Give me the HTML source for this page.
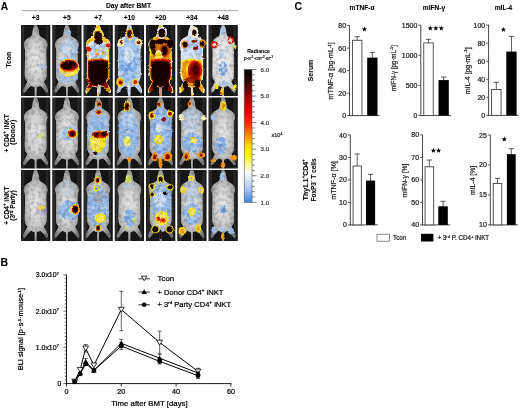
<!DOCTYPE html>
<html><head><meta charset="utf-8"><style>
html,body{margin:0;padding:0;background:#fff;}
svg{display:block;font-family:"Liberation Sans", sans-serif;will-change:transform;}
</style></head><body>
<svg width="520" height="408" viewBox="0 0 520 408">
<defs>
<path id="mouse" d="M14.65,0.30 C14.17,0.30 13.61,0.67 13.20,1.20 C12.79,1.73 12.47,2.62 12.20,3.50 C11.93,4.38 11.77,5.50 11.60,6.50 C11.43,7.50 11.47,8.65 11.20,9.50 C10.93,10.35 10.67,10.98 10.00,11.60 C9.33,12.22 8.07,12.63 7.20,13.20 C6.33,13.77 5.45,14.27 4.80,15.00 C4.15,15.73 3.62,16.70 3.30,17.60 C2.98,18.50 2.85,19.57 2.90,20.40 C2.95,21.23 3.40,21.67 3.60,22.60 C3.80,23.53 4.03,24.27 4.10,26.00 C4.17,27.73 4.03,30.33 4.00,33.00 C3.97,35.67 3.93,39.33 3.90,42.00 C3.87,44.67 3.72,47.08 3.80,49.00 C3.88,50.92 3.98,52.23 4.40,53.50 C4.82,54.77 6.20,55.58 6.30,56.60 C6.40,57.62 5.55,58.43 5.00,59.60 C4.45,60.77 3.43,62.43 3.00,63.60 C2.57,64.77 2.25,65.97 2.40,66.60 C2.55,67.23 3.22,67.83 3.90,67.40 C4.58,66.97 5.58,65.03 6.50,64.00 C7.42,62.97 8.42,61.57 9.40,61.20 C10.38,60.83 11.68,61.53 12.40,61.80 C13.12,62.07 13.45,61.27 13.70,62.80 C13.95,64.33 13.62,69.63 13.90,71.00 C14.18,72.37 15.12,72.37 15.40,71.00 C15.68,69.63 15.35,64.33 15.60,62.80 C15.85,61.27 16.18,62.07 16.90,61.80 C17.62,61.53 18.92,60.83 19.90,61.20 C20.88,61.57 21.88,62.97 22.80,64.00 C23.72,65.03 24.72,66.97 25.40,67.40 C26.08,67.83 26.75,67.23 26.90,66.60 C27.05,65.97 26.73,64.77 26.30,63.60 C25.87,62.43 24.85,60.77 24.30,59.60 C23.75,58.43 22.90,57.62 23.00,56.60 C23.10,55.58 24.48,54.77 24.90,53.50 C25.32,52.23 25.42,50.92 25.50,49.00 C25.58,47.08 25.43,44.67 25.40,42.00 C25.37,39.33 25.33,35.67 25.30,33.00 C25.27,30.33 25.13,27.73 25.20,26.00 C25.27,24.27 25.50,23.53 25.70,22.60 C25.90,21.67 26.35,21.23 26.40,20.40 C26.45,19.57 26.32,18.50 26.00,17.60 C25.68,16.70 25.15,15.73 24.50,15.00 C23.85,14.27 22.97,13.77 22.10,13.20 C21.23,12.63 19.97,12.22 19.30,11.60 C18.63,10.98 18.37,10.35 18.10,9.50 C17.83,8.65 17.87,7.50 17.70,6.50 C17.53,5.50 17.37,4.38 17.10,3.50 C16.83,2.62 16.51,1.73 16.10,1.20 C15.69,0.67 15.13,0.30 14.65,0.30 Z"/>
<filter id="heat0" x="-15%" y="-15%" width="130%" height="130%"><feTurbulence type="fractalNoise" baseFrequency="0.45" numOctaves="2" seed="1" result="n"/><feDisplacementMap in="SourceGraphic" in2="n" scale="2.6" xChannelSelector="R" yChannelSelector="G" result="d"/><feGaussianBlur in="d" stdDeviation="0.35"/></filter>
<filter id="patch0" x="-15%" y="-15%" width="130%" height="130%"><feTurbulence type="fractalNoise" baseFrequency="0.3" numOctaves="2" seed="5" result="n"/><feDisplacementMap in="SourceGraphic" in2="n" scale="3" xChannelSelector="R" yChannelSelector="G" result="d"/><feColorMatrix in="n" type="matrix" values="0 0 0 0 0  0 0 0 0 0  0 0 0 0 0  0 0 4 0 -1.35" result="m"/><feComposite in="d" in2="m" operator="in" result="c"/><feGaussianBlur in="c" stdDeviation="0.5"/></filter>
<filter id="tex0" x="0" y="0" width="100%" height="100%"><feTurbulence type="fractalNoise" baseFrequency="0.28" numOctaves="3" seed="2" result="n"/><feColorMatrix in="n" type="matrix" values="0 0 0 0 0  0 0 0 0 0  0 0 0 0 0  2.6 0 0 0 -1.1" result="a0"/><feGaussianBlur in="a0" stdDeviation="0.35" result="a"/><feComposite in="a" in2="SourceGraphic" operator="in"/></filter>
<filter id="heat1" x="-15%" y="-15%" width="130%" height="130%"><feTurbulence type="fractalNoise" baseFrequency="0.45" numOctaves="2" seed="8" result="n"/><feDisplacementMap in="SourceGraphic" in2="n" scale="2.6" xChannelSelector="R" yChannelSelector="G" result="d"/><feGaussianBlur in="d" stdDeviation="0.35"/></filter>
<filter id="patch1" x="-15%" y="-15%" width="130%" height="130%"><feTurbulence type="fractalNoise" baseFrequency="0.3" numOctaves="2" seed="8" result="n"/><feDisplacementMap in="SourceGraphic" in2="n" scale="3" xChannelSelector="R" yChannelSelector="G" result="d"/><feColorMatrix in="n" type="matrix" values="0 0 0 0 0  0 0 0 0 0  0 0 0 0 0  0 0 4 0 -1.35" result="m"/><feComposite in="d" in2="m" operator="in" result="c"/><feGaussianBlur in="c" stdDeviation="0.5"/></filter>
<filter id="tex1" x="0" y="0" width="100%" height="100%"><feTurbulence type="fractalNoise" baseFrequency="0.28" numOctaves="3" seed="7" result="n"/><feColorMatrix in="n" type="matrix" values="0 0 0 0 0  0 0 0 0 0  0 0 0 0 0  2.6 0 0 0 -1.1" result="a0"/><feGaussianBlur in="a0" stdDeviation="0.35" result="a"/><feComposite in="a" in2="SourceGraphic" operator="in"/></filter>
<filter id="heat2" x="-15%" y="-15%" width="130%" height="130%"><feTurbulence type="fractalNoise" baseFrequency="0.45" numOctaves="2" seed="15" result="n"/><feDisplacementMap in="SourceGraphic" in2="n" scale="2.6" xChannelSelector="R" yChannelSelector="G" result="d"/><feGaussianBlur in="d" stdDeviation="0.35"/></filter>
<filter id="patch2" x="-15%" y="-15%" width="130%" height="130%"><feTurbulence type="fractalNoise" baseFrequency="0.3" numOctaves="2" seed="11" result="n"/><feDisplacementMap in="SourceGraphic" in2="n" scale="3" xChannelSelector="R" yChannelSelector="G" result="d"/><feColorMatrix in="n" type="matrix" values="0 0 0 0 0  0 0 0 0 0  0 0 0 0 0  0 0 4 0 -1.35" result="m"/><feComposite in="d" in2="m" operator="in" result="c"/><feGaussianBlur in="c" stdDeviation="0.5"/></filter>
<filter id="tex2" x="0" y="0" width="100%" height="100%"><feTurbulence type="fractalNoise" baseFrequency="0.28" numOctaves="3" seed="12" result="n"/><feColorMatrix in="n" type="matrix" values="0 0 0 0 0  0 0 0 0 0  0 0 0 0 0  2.6 0 0 0 -1.1" result="a0"/><feGaussianBlur in="a0" stdDeviation="0.35" result="a"/><feComposite in="a" in2="SourceGraphic" operator="in"/></filter>
<filter id="heat3" x="-15%" y="-15%" width="130%" height="130%"><feTurbulence type="fractalNoise" baseFrequency="0.45" numOctaves="2" seed="22" result="n"/><feDisplacementMap in="SourceGraphic" in2="n" scale="2.6" xChannelSelector="R" yChannelSelector="G" result="d"/><feGaussianBlur in="d" stdDeviation="0.35"/></filter>
<filter id="patch3" x="-15%" y="-15%" width="130%" height="130%"><feTurbulence type="fractalNoise" baseFrequency="0.3" numOctaves="2" seed="14" result="n"/><feDisplacementMap in="SourceGraphic" in2="n" scale="3" xChannelSelector="R" yChannelSelector="G" result="d"/><feColorMatrix in="n" type="matrix" values="0 0 0 0 0  0 0 0 0 0  0 0 0 0 0  0 0 4 0 -1.35" result="m"/><feComposite in="d" in2="m" operator="in" result="c"/><feGaussianBlur in="c" stdDeviation="0.5"/></filter>
<filter id="tex3" x="0" y="0" width="100%" height="100%"><feTurbulence type="fractalNoise" baseFrequency="0.28" numOctaves="3" seed="17" result="n"/><feColorMatrix in="n" type="matrix" values="0 0 0 0 0  0 0 0 0 0  0 0 0 0 0  2.6 0 0 0 -1.1" result="a0"/><feGaussianBlur in="a0" stdDeviation="0.35" result="a"/><feComposite in="a" in2="SourceGraphic" operator="in"/></filter>

<filter id="pblur" x="-5%" y="-5%" width="110%" height="110%"><feGaussianBlur stdDeviation="0.3"/></filter>
<filter id="soft" x="-10%" y="-10%" width="120%" height="120%"><feGaussianBlur stdDeviation="0.45"/></filter>
<radialGradient id="mg" cx="50%" cy="50%" r="55%" gradientTransform="translate(0.5 0.5) scale(1.1 1) translate(-0.5 -0.5)"><stop offset="0" stop-color="#f2f2f2"/><stop offset="0.45" stop-color="#dadada"/><stop offset="0.8" stop-color="#a8a8a8"/><stop offset="1" stop-color="#707070"/></radialGradient>
<linearGradient id="cbar" x1="0" y1="0" x2="0" y2="1">
<stop offset="0" stop-color="#000"/>
<stop offset="0.1" stop-color="#3a0000"/>
<stop offset="0.2" stop-color="#990000"/>
<stop offset="0.3" stop-color="#e00000"/>
<stop offset="0.4" stop-color="#ff2a00"/>
<stop offset="0.5" stop-color="#ff8c00"/>
<stop offset="0.58" stop-color="#ffe000"/>
<stop offset="0.64" stop-color="#fff200"/>
<stop offset="0.72" stop-color="#fffaa0"/>
<stop offset="0.78" stop-color="#f8fbff"/>
<stop offset="0.9" stop-color="#a6c6f4"/>
<stop offset="1" stop-color="#3d82e8"/>
</linearGradient>
</defs>
<rect width="520" height="408" fill="#fff"/>
<text x="0.8" y="10.3" font-size="10.2" font-weight="bold" text-anchor="start" fill="#000" stroke="#000" stroke-width="0.08">A</text>
<text x="128.5" y="8" font-size="6.7" font-weight="bold" text-anchor="middle" fill="#000" stroke="#000" stroke-width="0.08">Day after BMT</text>
<line x1="22" y1="10.7" x2="238" y2="10.7" stroke="#999" stroke-width="0.9"/>
<text x="35.65" y="20.1" font-size="6.7" font-weight="bold" text-anchor="middle" fill="#000" stroke="#000" stroke-width="0.08">+3</text>
<text x="66.9" y="20.1" font-size="6.7" font-weight="bold" text-anchor="middle" fill="#000" stroke="#000" stroke-width="0.08">+5</text>
<text x="98.15" y="20.1" font-size="6.7" font-weight="bold" text-anchor="middle" fill="#000" stroke="#000" stroke-width="0.08">+7</text>
<text x="129.4" y="20.1" font-size="6.7" font-weight="bold" text-anchor="middle" fill="#000" stroke="#000" stroke-width="0.08">+10</text>
<text x="160.65" y="20.1" font-size="6.7" font-weight="bold" text-anchor="middle" fill="#000" stroke="#000" stroke-width="0.08">+20</text>
<text x="191.9" y="20.1" font-size="6.7" font-weight="bold" text-anchor="middle" fill="#000" stroke="#000" stroke-width="0.08">+34</text>
<text x="223.15" y="20.1" font-size="6.7" font-weight="bold" text-anchor="middle" fill="#000" stroke="#000" stroke-width="0.08">+48</text>
<g transform="translate(21.00,25)">
<clipPath id="pc00"><rect x="0" y="0" width="29.3" height="71"/></clipPath>
<g clip-path="url(#pc00)"><g filter="url(#pblur)">
<rect x="-1" y="-1" width="31.3" height="73" fill="#181818"/>
<rect x="0.6" y="0" width="2.6" height="71" fill="#2c2c2c"/>
<rect x="25" y="0" width="2.5" height="71" fill="#262626"/>
<rect x="12.8" y="0" width="3.2" height="5" fill="#7a7a7a" opacity="0.7"/>
<use href="#mouse" fill="#b4b4b4" filter="url(#soft)"/>
<use href="#mouse" fill="url(#mg)" opacity="0.85" filter="url(#soft)"/>
<g filter="url(#heat0)">
<ellipse cx="22.25" cy="41.00" rx="3.75" ry="2.50" fill="#a2c6f3" opacity="0.85"/>
<ellipse cx="22.30" cy="41.00" rx="2.00" ry="1.20" fill="#c8c8c8"/>
</g>
<use href="#mouse" fill="#000" filter="url(#tex0)" opacity="0.2"/>
</g></g>
</g>
<g transform="translate(52.25,25)">
<clipPath id="pc01"><rect x="0" y="0" width="29.3" height="71"/></clipPath>
<g clip-path="url(#pc01)"><g filter="url(#pblur)">
<rect x="-1" y="-1" width="31.3" height="73" fill="#181818"/>
<rect x="0.6" y="0" width="2.6" height="71" fill="#2c2c2c"/>
<rect x="25" y="0" width="2.5" height="71" fill="#262626"/>
<rect x="12.8" y="0" width="3.2" height="5" fill="#7a7a7a" opacity="0.7"/>
<use href="#mouse" fill="#b4b4b4" filter="url(#soft)"/>
<use href="#mouse" fill="url(#mg)" opacity="0.85" filter="url(#soft)"/>
<g filter="url(#heat1)">
<ellipse cx="17.25" cy="23.50" rx="8.75" ry="11.50" fill="#a2c6f3" opacity="0.95" filter="url(#patch1)"/>
<ellipse cx="16.00" cy="23.00" rx="6.00" ry="7.00" fill="#e9f1fb" opacity="0.35"/>
<ellipse cx="16.00" cy="53.00" rx="10.00" ry="5.00" fill="#a2c6f3" opacity="0.9" filter="url(#patch1)"/>
<ellipse cx="16.15" cy="7.90" rx="2.65" ry="3.10" fill="#a2c6f3" opacity="0.9"/>
<ellipse cx="16.40" cy="43.25" rx="10.80" ry="10.75" fill="#a2c6f3" opacity="0.9"/>
<ellipse cx="16.60" cy="42.80" rx="10.20" ry="9.20" fill="#ffe81a"/>
<ellipse cx="15.00" cy="47.75" rx="6.00" ry="3.75" fill="#fff27a"/>
<ellipse cx="16.70" cy="40.85" rx="9.50" ry="6.65" fill="#ff9a10"/>
<ellipse cx="16.70" cy="40.40" rx="8.90" ry="5.60" fill="#e01a00"/>
<ellipse cx="16.70" cy="40.20" rx="8.30" ry="4.60" fill="#8a0a00"/>
<ellipse cx="14.30" cy="40.80" rx="5.50" ry="3.80" fill="#1a0400"/>
<ellipse cx="19.75" cy="39.00" rx="3.75" ry="3.00" fill="#1a0400"/>
</g>
<use href="#mouse" fill="#000" filter="url(#tex1)" opacity="0.2"/>
</g></g>
</g>
<g transform="translate(83.50,25)">
<clipPath id="pc02"><rect x="0" y="0" width="29.3" height="71"/></clipPath>
<g clip-path="url(#pc02)"><g filter="url(#pblur)">
<rect x="-1" y="-1" width="31.3" height="73" fill="#181818"/>
<rect x="0.6" y="0" width="2.6" height="71" fill="#2c2c2c"/>
<rect x="25" y="0" width="2.5" height="71" fill="#262626"/>
<rect x="12.8" y="0" width="3.2" height="5" fill="#7a7a7a" opacity="0.7"/>
<use href="#mouse" fill="#b4b4b4" filter="url(#soft)"/>
<use href="#mouse" fill="url(#mg)" opacity="0.85" filter="url(#soft)"/>
<g filter="url(#heat2)">
<clipPath id="cp02_0"><rect x="-2" y="-2" width="34" height="76"/></clipPath>
<g clip-path="url(#cp02_0)"><use href="#mouse" fill="#fff6c8" transform="translate(14.65 36) scale(1.04 1.012) translate(-14.65 -36)"/></g>
<clipPath id="cp02_1"><rect x="-2" y="-2" width="34" height="76"/></clipPath>
<g clip-path="url(#cp02_1)"><use href="#mouse" fill="#ffe81a" transform="translate(14.65 36) scale(1.0 1.0) translate(-14.65 -36)"/></g>
<clipPath id="cp02_2"><rect x="-2" y="-2" width="34" height="76"/></clipPath>
<g clip-path="url(#cp02_2)" opacity="0.5"><use href="#mouse" fill="#ff9a10" transform="translate(14.65 36) scale(0.97 0.99) translate(-14.65 -36)"/></g>
<clipPath id="cp02_3"><ellipse cx="15.00" cy="28.00" rx="21.00" ry="12.00"/></clipPath>
<g clip-path="url(#cp02_3)"><use href="#mouse" fill="#e4eefc" transform="translate(14.65 36) scale(0.9 0.975) translate(-14.65 -36)"/></g>
<ellipse cx="15.25" cy="26.75" rx="8.75" ry="9.25" fill="#a2c6f3" filter="url(#patch2)"/>
<ellipse cx="12.75" cy="25.50" rx="1.25" ry="1.50" fill="#ffe81a" opacity="0.9"/>
<ellipse cx="13.85" cy="29.20" rx="1.35" ry="1.40" fill="#ff9a10"/>
<ellipse cx="19.70" cy="28.10" rx="1.30" ry="1.30" fill="#ff9a10"/>
<ellipse cx="14.60" cy="10.80" rx="5.80" ry="7.20" fill="#fff0a0"/>
<ellipse cx="14.60" cy="11.00" rx="5.00" ry="6.40" fill="#ffe81a"/>
<ellipse cx="14.70" cy="11.00" rx="4.10" ry="5.00" fill="#8a0a00"/>
<ellipse cx="14.70" cy="10.80" rx="3.30" ry="3.80" fill="#1a0400"/>
<ellipse cx="15.00" cy="16.60" rx="4.40" ry="2.60" fill="#1a0400"/>
<ellipse cx="5.20" cy="24.00" rx="2.80" ry="2.60" fill="#e01a00"/>
<ellipse cx="24.40" cy="20.50" rx="2.60" ry="2.10" fill="#e01a00"/>
<clipPath id="cp02_15"><ellipse cx="14.50" cy="50.70" rx="26.50" ry="17.30"/></clipPath>
<g clip-path="url(#cp02_15)"><use href="#mouse" fill="#ff9a10" transform="translate(14.65 36) scale(0.97 0.995) translate(-14.65 -36)"/></g>
<clipPath id="cp02_16"><ellipse cx="14.50" cy="49.30" rx="24.50" ry="14.70"/></clipPath>
<g clip-path="url(#cp02_16)"><use href="#mouse" fill="#8a0a00" transform="translate(14.65 36) scale(0.93 0.985) translate(-14.65 -36)"/></g>
<clipPath id="cp02_17"><ellipse cx="14.50" cy="47.90" rx="22.50" ry="12.10"/></clipPath>
<g clip-path="url(#cp02_17)"><use href="#mouse" fill="#1a0400" transform="translate(14.65 36) scale(0.88 0.975) translate(-14.65 -36)"/></g>
<ellipse cx="4.80" cy="56.30" rx="2.20" ry="1.70" fill="#8a0a00"/>
<ellipse cx="22.20" cy="59.30" rx="2.00" ry="2.10" fill="#8a0a00"/>
<ellipse cx="15.45" cy="64.75" rx="1.95" ry="5.75" fill="#e9f1fb" opacity="0.8"/>
</g>
<use href="#mouse" fill="#000" filter="url(#tex2)" opacity="0.2"/>
</g></g>
</g>
<g transform="translate(114.75,25)">
<clipPath id="pc03"><rect x="0" y="0" width="29.3" height="71"/></clipPath>
<g clip-path="url(#pc03)"><g filter="url(#pblur)">
<rect x="-1" y="-1" width="31.3" height="73" fill="#181818"/>
<rect x="0.6" y="0" width="2.6" height="71" fill="#2c2c2c"/>
<rect x="25" y="0" width="2.5" height="71" fill="#262626"/>
<rect x="12.8" y="0" width="3.2" height="5" fill="#7a7a7a" opacity="0.7"/>
<use href="#mouse" fill="#b4b4b4" filter="url(#soft)"/>
<use href="#mouse" fill="url(#mg)" opacity="0.85" filter="url(#soft)"/>
<g filter="url(#heat3)">
<clipPath id="cp03_0"><rect x="-2" y="-2" width="34" height="76"/></clipPath>
<g clip-path="url(#cp03_0)"><use href="#mouse" fill="#f2f6ff" transform="translate(14.65 36) scale(1.04 1.01) translate(-14.65 -36)"/></g>
<clipPath id="cp03_1"><rect x="-2" y="-2" width="34" height="76"/></clipPath>
<g clip-path="url(#cp03_1)"><use href="#mouse" fill="#b8d2f5" transform="translate(14.65 36) scale(0.97 0.99) translate(-14.65 -36)"/></g>
<ellipse cx="14.80" cy="33.50" rx="10.60" ry="20.50" fill="#a2c6f3" filter="url(#patch3)"/>
<ellipse cx="14.00" cy="41.00" rx="8.00" ry="11.00" fill="#6a9fea" opacity="0.7" filter="url(#patch3)"/>
<ellipse cx="13.50" cy="30.00" rx="5.50" ry="8.00" fill="#e9f1fb" opacity="0.7"/>
<ellipse cx="14.85" cy="8.90" rx="3.55" ry="5.70" fill="#ffe81a"/>
<ellipse cx="14.85" cy="8.95" rx="2.95" ry="4.85" fill="#ff9a10"/>
<ellipse cx="14.85" cy="8.90" rx="2.45" ry="3.90" fill="#8a0a00"/>
<ellipse cx="14.80" cy="8.80" rx="1.80" ry="2.80" fill="#1a0400"/>
<ellipse cx="6.40" cy="17.70" rx="3.00" ry="3.90" fill="#fff6a0"/>
<ellipse cx="6.50" cy="17.60" rx="1.50" ry="2.00" fill="#8a0a00"/>
<ellipse cx="23.75" cy="17.35" rx="3.45" ry="3.55" fill="#fff6a0"/>
<ellipse cx="23.80" cy="17.30" rx="1.80" ry="1.90" fill="#8a0a00"/>
<ellipse cx="14.00" cy="55.00" rx="11.00" ry="5.00" fill="#a2c6f3" filter="url(#patch3)"/>
<ellipse cx="5.40" cy="57.15" rx="3.80" ry="4.65" fill="#ffe81a"/>
<ellipse cx="5.50" cy="57.20" rx="2.90" ry="3.60" fill="#ff9a10"/>
<ellipse cx="5.60" cy="57.50" rx="1.60" ry="2.10" fill="#8a0a00"/>
<ellipse cx="20.60" cy="57.10" rx="3.00" ry="3.10" fill="#ffe81a"/>
<ellipse cx="20.60" cy="57.10" rx="2.00" ry="2.10" fill="#e01a00"/>
<ellipse cx="14.00" cy="64.00" rx="1.50" ry="6.00" fill="#e9f1fb" opacity="0.7"/>
</g>
<use href="#mouse" fill="#000" filter="url(#tex3)" opacity="0.2"/>
</g></g>
</g>
<g transform="translate(146.00,25)">
<clipPath id="pc04"><rect x="0" y="0" width="29.3" height="71"/></clipPath>
<g clip-path="url(#pc04)"><g filter="url(#pblur)">
<rect x="-1" y="-1" width="31.3" height="73" fill="#181818"/>
<rect x="0.6" y="0" width="2.6" height="71" fill="#2c2c2c"/>
<rect x="25" y="0" width="2.5" height="71" fill="#262626"/>
<rect x="12.8" y="0" width="3.2" height="5" fill="#7a7a7a" opacity="0.7"/>
<use href="#mouse" fill="#b4b4b4" filter="url(#soft)"/>
<use href="#mouse" fill="url(#mg)" opacity="0.85" filter="url(#soft)"/>
<g filter="url(#heat0)">
<clipPath id="cp04_0"><rect x="-2" y="-2" width="34" height="76"/></clipPath>
<g clip-path="url(#cp04_0)"><use href="#mouse" fill="#fff8e0" transform="translate(14.65 36) scale(1.04 1.012) translate(-14.65 -36)"/></g>
<clipPath id="cp04_1"><rect x="-2" y="-2" width="34" height="76"/></clipPath>
<g clip-path="url(#cp04_1)"><use href="#mouse" fill="#ffe81a" transform="translate(14.65 36) scale(1.0 1.0) translate(-14.65 -36)"/></g>
<clipPath id="cp04_2"><rect x="-2" y="-2" width="34" height="76"/></clipPath>
<g clip-path="url(#cp04_2)" opacity="0.85"><use href="#mouse" fill="#ff9a10" transform="translate(14.65 36) scale(0.93 0.985) translate(-14.65 -36)"/></g>
<ellipse cx="15.00" cy="25.00" rx="10.00" ry="9.00" fill="#8a0a00" opacity="0.35"/>
<ellipse cx="16.00" cy="7.75" rx="5.00" ry="6.25" fill="#ffffff"/>
<ellipse cx="15.90" cy="7.90" rx="3.60" ry="4.50" fill="#1a0400"/>
<ellipse cx="15.45" cy="16.60" rx="6.85" ry="2.60" fill="#1a0400"/>
<ellipse cx="6.70" cy="19.60" rx="3.30" ry="5.40" fill="#1a0400"/>
<ellipse cx="24.25" cy="18.60" rx="3.25" ry="4.40" fill="#1a0400"/>
<ellipse cx="18.50" cy="25.75" rx="4.00" ry="5.75" fill="#8a0a00" opacity="0.8"/>
<ellipse cx="18.60" cy="25.85" rx="2.70" ry="4.45" fill="#1a0400"/>
<ellipse cx="8.00" cy="27.00" rx="2.00" ry="3.00" fill="#1a0400" opacity="0.8"/>
<ellipse cx="12.50" cy="30.10" rx="3.50" ry="4.90" fill="#fff6c0"/>
<ellipse cx="12.50" cy="30.50" rx="2.50" ry="3.50" fill="#ffe81a"/>
<clipPath id="cp04_14"><ellipse cx="14.50" cy="54.75" rx="24.50" ry="21.25"/></clipPath>
<g clip-path="url(#cp04_14)"><use href="#mouse" fill="#e01a00" transform="translate(14.65 36) scale(0.95 0.99) translate(-14.65 -36)"/></g>
<clipPath id="cp04_15"><ellipse cx="14.50" cy="53.50" rx="22.50" ry="18.50"/></clipPath>
<g clip-path="url(#cp04_15)"><use href="#mouse" fill="#8a0a00" transform="translate(14.65 36) scale(0.9 0.98) translate(-14.65 -36)"/></g>
<clipPath id="cp04_16"><ellipse cx="14.50" cy="49.20" rx="20.50" ry="12.80"/></clipPath>
<g clip-path="url(#cp04_16)"><use href="#mouse" fill="#1a0400" transform="translate(14.65 36) scale(0.84 0.97) translate(-14.65 -36)"/></g>
<ellipse cx="8.75" cy="61.50" rx="2.25" ry="4.50" fill="#1a0400"/>
<ellipse cx="20.00" cy="60.50" rx="2.50" ry="4.50" fill="#1a0400"/>
<ellipse cx="14.70" cy="66.50" rx="1.30" ry="4.50" fill="#e9f1fb" opacity="0.6"/>
</g>
<use href="#mouse" fill="#000" filter="url(#tex0)" opacity="0.2"/>
</g></g>
</g>
<g transform="translate(177.25,25)">
<clipPath id="pc05"><rect x="0" y="0" width="29.3" height="71"/></clipPath>
<g clip-path="url(#pc05)"><g filter="url(#pblur)">
<rect x="-1" y="-1" width="31.3" height="73" fill="#181818"/>
<rect x="0.6" y="0" width="2.6" height="71" fill="#2c2c2c"/>
<rect x="25" y="0" width="2.5" height="71" fill="#262626"/>
<rect x="12.8" y="0" width="3.2" height="5" fill="#7a7a7a" opacity="0.7"/>
<use href="#mouse" fill="#b4b4b4" filter="url(#soft)"/>
<use href="#mouse" fill="url(#mg)" opacity="0.85" filter="url(#soft)"/>
<g filter="url(#heat1)">
<clipPath id="cp05_0"><rect x="-2" y="-2" width="34" height="76"/></clipPath>
<g clip-path="url(#cp05_0)"><use href="#mouse" fill="#fff8e0" transform="translate(14.65 36) scale(1.05 1.015) translate(-14.65 -36)"/></g>
<clipPath id="cp05_1"><rect x="-2" y="-2" width="34" height="76"/></clipPath>
<g clip-path="url(#cp05_1)"><use href="#mouse" fill="#dce8fb" transform="translate(14.65 36) scale(0.98 0.995) translate(-14.65 -36)"/></g>
<ellipse cx="15.75" cy="24.20" rx="9.85" ry="11.80" fill="#a2c6f3" filter="url(#patch1)"/>
<ellipse cx="15.00" cy="29.50" rx="7.00" ry="5.50" fill="#e9f1fb" opacity="0.5"/>
<ellipse cx="17.10" cy="7.55" rx="4.10" ry="6.05" fill="#fff6e0"/>
<ellipse cx="17.10" cy="7.80" rx="2.20" ry="3.20" fill="#1a0400"/>
<ellipse cx="16.65" cy="16.40" rx="2.65" ry="1.40" fill="#8a0a00"/>
<ellipse cx="7.70" cy="19.60" rx="3.90" ry="4.00" fill="#ff9a10"/>
<ellipse cx="7.70" cy="19.60" rx="2.70" ry="2.80" fill="#1a0400"/>
<ellipse cx="25.10" cy="18.65" rx="3.50" ry="4.05" fill="#ff9a10"/>
<ellipse cx="25.10" cy="18.65" rx="2.30" ry="2.85" fill="#1a0400"/>
<ellipse cx="18.40" cy="23.20" rx="2.70" ry="1.80" fill="#8a0a00"/>
<clipPath id="cp05_12"><ellipse cx="14.50" cy="55.75" rx="22.50" ry="22.25"/></clipPath>
<g clip-path="url(#cp05_12)"><use href="#mouse" fill="#ffe81a" transform="translate(14.65 36) scale(0.97 0.99) translate(-14.65 -36)"/></g>
<clipPath id="cp05_13"><ellipse cx="14.50" cy="54.50" rx="20.50" ry="19.50"/></clipPath>
<g clip-path="url(#cp05_13)"><use href="#mouse" fill="#ff9a10" transform="translate(14.65 36) scale(0.9 0.98) translate(-14.65 -36)"/></g>
<ellipse cx="11.75" cy="43.70" rx="3.15" ry="5.30" fill="#ffe81a"/>
<ellipse cx="17.75" cy="45.50" rx="7.25" ry="10.00" fill="#e01a00"/>
<ellipse cx="18.00" cy="45.25" rx="5.50" ry="8.25" fill="#8a0a00"/>
<ellipse cx="18.25" cy="45.00" rx="3.25" ry="5.00" fill="#1a0400" opacity="0.55"/>
<ellipse cx="15.00" cy="55.00" rx="9.00" ry="3.00" fill="#8a0a00" opacity="0.8"/>
<ellipse cx="8.25" cy="60.00" rx="2.75" ry="4.00" fill="#1a0400"/>
<ellipse cx="20.00" cy="59.00" rx="3.00" ry="4.00" fill="#1a0400"/>
<ellipse cx="14.75" cy="66.00" rx="1.25" ry="4.00" fill="#eeeeee" opacity="0.7"/>
</g>
<use href="#mouse" fill="#000" filter="url(#tex1)" opacity="0.2"/>
</g></g>
</g>
<g transform="translate(208.50,25)">
<clipPath id="pc06"><rect x="0" y="0" width="29.3" height="71"/></clipPath>
<g clip-path="url(#pc06)"><g filter="url(#pblur)">
<rect x="-1" y="-1" width="31.3" height="73" fill="#181818"/>
<rect x="0.6" y="0" width="2.6" height="71" fill="#2c2c2c"/>
<rect x="25" y="0" width="2.5" height="71" fill="#262626"/>
<rect x="12.8" y="0" width="3.2" height="5" fill="#7a7a7a" opacity="0.7"/>
<use href="#mouse" fill="#b4b4b4" filter="url(#soft)"/>
<use href="#mouse" fill="url(#mg)" opacity="0.85" filter="url(#soft)"/>
<g filter="url(#heat2)">
<clipPath id="cp06_0"><rect x="-2" y="-2" width="34" height="76"/></clipPath>
<g clip-path="url(#cp06_0)" opacity="0.55"><use href="#mouse" fill="#f6f6f6" transform="translate(14.65 36) scale(0.94 0.98) translate(-14.65 -36)"/></g>
<ellipse cx="14.15" cy="5.70" rx="2.25" ry="4.00" fill="#a2c6f3" opacity="0.7"/>
<ellipse cx="5.65" cy="19.60" rx="3.55" ry="3.60" fill="#e01a00"/>
<ellipse cx="5.65" cy="19.60" rx="1.95" ry="2.00" fill="#d8d8d8"/>
<ellipse cx="22.15" cy="15.10" rx="3.15" ry="3.60" fill="#e01a00"/>
<ellipse cx="22.15" cy="15.10" rx="1.75" ry="2.20" fill="#d8d8d8"/>
<ellipse cx="25.75" cy="21.40" rx="2.25" ry="1.80" fill="#c8e070"/>
<ellipse cx="14.60" cy="43.80" rx="4.50" ry="7.20" fill="#6a9fea" filter="url(#patch2)"/>
<ellipse cx="14.50" cy="29.00" rx="4.50" ry="5.00" fill="#a2c6f3" opacity="0.6" filter="url(#patch2)"/>
<ellipse cx="8.35" cy="61.65" rx="1.75" ry="2.65" fill="#ffe81a"/>
<ellipse cx="26.20" cy="62.50" rx="1.80" ry="2.70" fill="#ffe81a"/>
<ellipse cx="13.70" cy="66.55" rx="1.80" ry="3.15" fill="#ff9a10"/>
<ellipse cx="13.70" cy="64.70" rx="1.30" ry="2.30" fill="#ffe81a"/>
<ellipse cx="15.00" cy="58.50" rx="5.00" ry="3.50" fill="#a2c6f3" opacity="0.8" filter="url(#patch2)"/>
</g>
<use href="#mouse" fill="#000" filter="url(#tex2)" opacity="0.2"/>
</g></g>
</g>
<g transform="translate(21.00,97.5)">
<clipPath id="pc10"><rect x="0" y="0" width="29.3" height="71"/></clipPath>
<g clip-path="url(#pc10)"><g filter="url(#pblur)">
<rect x="-1" y="-1" width="31.3" height="73" fill="#181818"/>
<rect x="0.6" y="0" width="2.6" height="71" fill="#2c2c2c"/>
<rect x="25" y="0" width="2.5" height="71" fill="#262626"/>
<rect x="12.8" y="0" width="3.2" height="5" fill="#7a7a7a" opacity="0.7"/>
<use href="#mouse" fill="#b4b4b4" filter="url(#soft)"/>
<use href="#mouse" fill="url(#mg)" opacity="0.85" filter="url(#soft)"/>
<g filter="url(#heat3)">
<ellipse cx="19.85" cy="38.45" rx="3.65" ry="2.75" fill="#c8e070" opacity="0.55"/>
<ellipse cx="14.75" cy="36.50" rx="2.25" ry="2.00" fill="#b9a8e0" opacity="0.35"/>
</g>
<use href="#mouse" fill="#000" filter="url(#tex3)" opacity="0.2"/>
</g></g>
</g>
<g transform="translate(52.25,97.5)">
<clipPath id="pc11"><rect x="0" y="0" width="29.3" height="71"/></clipPath>
<g clip-path="url(#pc11)"><g filter="url(#pblur)">
<rect x="-1" y="-1" width="31.3" height="73" fill="#181818"/>
<rect x="0.6" y="0" width="2.6" height="71" fill="#2c2c2c"/>
<rect x="25" y="0" width="2.5" height="71" fill="#262626"/>
<rect x="12.8" y="0" width="3.2" height="5" fill="#7a7a7a" opacity="0.7"/>
<use href="#mouse" fill="#b4b4b4" filter="url(#soft)"/>
<use href="#mouse" fill="url(#mg)" opacity="0.85" filter="url(#soft)"/>
<g filter="url(#heat0)">
<ellipse cx="17.35" cy="36.15" rx="8.65" ry="7.75" fill="#a2c6f3" filter="url(#patch0)"/>
<ellipse cx="17.25" cy="36.25" rx="7.75" ry="6.75" fill="#a2c6f3" opacity="0.6"/>
<ellipse cx="20.05" cy="36.15" rx="4.95" ry="4.95" fill="#ffe81a"/>
<ellipse cx="20.05" cy="36.15" rx="4.15" ry="4.05" fill="#ff9a10"/>
<ellipse cx="20.05" cy="36.20" rx="3.55" ry="3.40" fill="#e01a00"/>
<ellipse cx="20.00" cy="36.35" rx="3.00" ry="2.85" fill="#8a0a00"/>
<ellipse cx="19.90" cy="36.40" rx="2.10" ry="2.00" fill="#1a0400"/>
</g>
<use href="#mouse" fill="#000" filter="url(#tex0)" opacity="0.2"/>
</g></g>
</g>
<g transform="translate(83.50,97.5)">
<clipPath id="pc12"><rect x="0" y="0" width="29.3" height="71"/></clipPath>
<g clip-path="url(#pc12)"><g filter="url(#pblur)">
<rect x="-1" y="-1" width="31.3" height="73" fill="#181818"/>
<rect x="0.6" y="0" width="2.6" height="71" fill="#2c2c2c"/>
<rect x="25" y="0" width="2.5" height="71" fill="#262626"/>
<rect x="12.8" y="0" width="3.2" height="5" fill="#7a7a7a" opacity="0.7"/>
<use href="#mouse" fill="#b4b4b4" filter="url(#soft)"/>
<use href="#mouse" fill="url(#mg)" opacity="0.85" filter="url(#soft)"/>
<g filter="url(#heat1)">
<ellipse cx="14.85" cy="33.90" rx="10.85" ry="24.50" fill="#a2c6f3" filter="url(#patch1)"/>
<ellipse cx="15.00" cy="33.50" rx="10.00" ry="23.50" fill="#a2c6f3" opacity="0.5"/>
<ellipse cx="14.25" cy="28.00" rx="5.75" ry="6.00" fill="#6a9fea" opacity="0.4"/>
<ellipse cx="15.75" cy="6.70" rx="2.75" ry="2.70" fill="#ff9a10"/>
<ellipse cx="15.75" cy="6.70" rx="1.95" ry="1.90" fill="#8a0a00"/>
<ellipse cx="15.75" cy="6.70" rx="1.25" ry="1.30" fill="#1a0400"/>
<ellipse cx="15.30" cy="14.85" rx="3.20" ry="2.75" fill="#ff9a10"/>
<ellipse cx="15.30" cy="14.85" rx="2.30" ry="1.85" fill="#8a0a00"/>
<ellipse cx="14.25" cy="44.50" rx="7.75" ry="11.00" fill="#ffe81a"/>
<ellipse cx="12.60" cy="46.50" rx="4.40" ry="6.50" fill="#fff36a"/>
<ellipse cx="19.50" cy="38.00" rx="5.50" ry="5.00" fill="#ffe81a"/>
<ellipse cx="16.50" cy="37.10" rx="8.50" ry="3.90" fill="#ff9a10"/>
<ellipse cx="16.65" cy="37.05" rx="8.15" ry="3.15" fill="#e01a00"/>
<ellipse cx="12.55" cy="37.50" rx="3.15" ry="2.70" fill="#8a0a00"/>
<ellipse cx="20.25" cy="36.60" rx="3.65" ry="2.70" fill="#8a0a00"/>
<ellipse cx="12.70" cy="37.30" rx="1.90" ry="1.70" fill="#1a0400"/>
<ellipse cx="20.30" cy="36.50" rx="2.30" ry="1.90" fill="#1a0400"/>
<ellipse cx="12.10" cy="55.70" rx="1.80" ry="1.80" fill="#1a0400"/>
</g>
<use href="#mouse" fill="#000" filter="url(#tex1)" opacity="0.2"/>
</g></g>
</g>
<g transform="translate(114.75,97.5)">
<clipPath id="pc13"><rect x="0" y="0" width="29.3" height="71"/></clipPath>
<g clip-path="url(#pc13)"><g filter="url(#pblur)">
<rect x="-1" y="-1" width="31.3" height="73" fill="#181818"/>
<rect x="0.6" y="0" width="2.6" height="71" fill="#2c2c2c"/>
<rect x="25" y="0" width="2.5" height="71" fill="#262626"/>
<rect x="12.8" y="0" width="3.2" height="5" fill="#7a7a7a" opacity="0.7"/>
<use href="#mouse" fill="#b4b4b4" filter="url(#soft)"/>
<use href="#mouse" fill="url(#mg)" opacity="0.85" filter="url(#soft)"/>
<g filter="url(#heat2)">
<ellipse cx="13.70" cy="36.60" rx="10.00" ry="23.60" fill="#6a9fea" filter="url(#patch2)"/>
<ellipse cx="13.75" cy="36.50" rx="9.75" ry="23.50" fill="#a2c6f3" opacity="0.6"/>
<ellipse cx="13.00" cy="22.50" rx="7.00" ry="7.50" fill="#e9f1fb" opacity="0.35"/>
<ellipse cx="12.30" cy="8.50" rx="3.20" ry="5.50" fill="#ffe81a"/>
<ellipse cx="12.30" cy="9.00" rx="2.30" ry="4.00" fill="#8a0a00"/>
<ellipse cx="12.30" cy="8.75" rx="1.50" ry="2.75" fill="#1a0400"/>
<ellipse cx="12.30" cy="43.85" rx="4.10" ry="5.45" fill="#e8f4a8" opacity="0.9"/>
<ellipse cx="12.50" cy="43.75" rx="2.50" ry="3.25" fill="#ffe81a" opacity="0.6"/>
<ellipse cx="14.60" cy="62.00" rx="1.80" ry="2.70" fill="#ff9a10"/>
</g>
<use href="#mouse" fill="#000" filter="url(#tex2)" opacity="0.2"/>
</g></g>
</g>
<g transform="translate(146.00,97.5)">
<clipPath id="pc14"><rect x="0" y="0" width="29.3" height="71"/></clipPath>
<g clip-path="url(#pc14)"><g filter="url(#pblur)">
<rect x="-1" y="-1" width="31.3" height="73" fill="#181818"/>
<rect x="0.6" y="0" width="2.6" height="71" fill="#2c2c2c"/>
<rect x="25" y="0" width="2.5" height="71" fill="#262626"/>
<rect x="12.8" y="0" width="3.2" height="5" fill="#7a7a7a" opacity="0.7"/>
<use href="#mouse" fill="#b4b4b4" filter="url(#soft)"/>
<use href="#mouse" fill="url(#mg)" opacity="0.85" filter="url(#soft)"/>
<g filter="url(#heat3)">
<ellipse cx="15.80" cy="33.00" rx="10.40" ry="23.60" fill="#6a9fea" filter="url(#patch3)"/>
<ellipse cx="15.75" cy="33.00" rx="10.25" ry="23.00" fill="#a2c6f3" opacity="0.55"/>
<ellipse cx="13.50" cy="30.25" rx="3.60" ry="4.55" fill="#e9f1fb" opacity="0.8"/>
<ellipse cx="13.05" cy="6.70" rx="2.25" ry="2.70" fill="#ff9a10"/>
<ellipse cx="13.05" cy="6.70" rx="1.25" ry="1.70" fill="#8a0a00"/>
<ellipse cx="5.80" cy="18.00" rx="3.20" ry="4.10" fill="#ffe81a"/>
<ellipse cx="5.90" cy="18.00" rx="1.90" ry="2.60" fill="#8a0a00"/>
<ellipse cx="23.95" cy="16.20" rx="3.15" ry="3.20" fill="#ffe81a"/>
<ellipse cx="24.00" cy="16.20" rx="2.00" ry="2.00" fill="#8a0a00"/>
<ellipse cx="17.60" cy="21.65" rx="2.30" ry="2.25" fill="#8a0a00"/>
<ellipse cx="12.60" cy="42.05" rx="4.50" ry="4.55" fill="#ffe81a"/>
<ellipse cx="12.50" cy="42.00" rx="2.50" ry="2.50" fill="#fff36a"/>
<ellipse cx="9.00" cy="59.30" rx="2.70" ry="4.50" fill="#ff9a10"/>
<ellipse cx="9.00" cy="59.25" rx="1.50" ry="2.75" fill="#8a0a00"/>
<ellipse cx="21.65" cy="59.30" rx="4.55" ry="4.50" fill="#ff9a10"/>
<ellipse cx="21.50" cy="59.25" rx="2.50" ry="2.75" fill="#8a0a00"/>
<ellipse cx="14.40" cy="65.20" rx="1.80" ry="5.00" fill="#ff9a10"/>
</g>
<use href="#mouse" fill="#000" filter="url(#tex3)" opacity="0.2"/>
</g></g>
</g>
<g transform="translate(177.25,97.5)">
<clipPath id="pc15"><rect x="0" y="0" width="29.3" height="71"/></clipPath>
<g clip-path="url(#pc15)"><g filter="url(#pblur)">
<rect x="-1" y="-1" width="31.3" height="73" fill="#181818"/>
<rect x="0.6" y="0" width="2.6" height="71" fill="#2c2c2c"/>
<rect x="25" y="0" width="2.5" height="71" fill="#262626"/>
<rect x="12.8" y="0" width="3.2" height="5" fill="#7a7a7a" opacity="0.7"/>
<use href="#mouse" fill="#b4b4b4" filter="url(#soft)"/>
<use href="#mouse" fill="url(#mg)" opacity="0.85" filter="url(#soft)"/>
<g filter="url(#heat0)">
<ellipse cx="14.65" cy="23.00" rx="9.55" ry="11.80" fill="#a2c6f3" opacity="0.7" filter="url(#patch0)"/>
<ellipse cx="15.10" cy="44.80" rx="10.00" ry="10.00" fill="#6a9fea" filter="url(#patch0)"/>
<ellipse cx="15.00" cy="44.50" rx="9.50" ry="9.50" fill="#a2c6f3" opacity="0.55"/>
<ellipse cx="12.35" cy="6.20" rx="1.85" ry="3.20" fill="#ff9a10"/>
<ellipse cx="12.35" cy="6.05" rx="1.05" ry="1.75" fill="#8a0a00"/>
<ellipse cx="4.20" cy="19.80" rx="2.70" ry="3.20" fill="#fff6c0"/>
<ellipse cx="26.00" cy="20.75" rx="2.70" ry="2.25" fill="#fff6c0"/>
<ellipse cx="16.45" cy="42.50" rx="3.15" ry="3.20" fill="#ffe81a"/>
<ellipse cx="16.45" cy="42.50" rx="1.95" ry="2.00" fill="#fff36a"/>
<ellipse cx="9.20" cy="58.90" rx="3.20" ry="4.10" fill="#ff9a10"/>
<ellipse cx="9.00" cy="59.00" rx="1.50" ry="2.50" fill="#8a0a00"/>
<ellipse cx="24.15" cy="57.50" rx="3.65" ry="2.70" fill="#ff9a10"/>
<ellipse cx="23.75" cy="57.50" rx="1.75" ry="1.70" fill="#8a0a00"/>
</g>
<use href="#mouse" fill="#000" filter="url(#tex0)" opacity="0.2"/>
</g></g>
</g>
<g transform="translate(208.50,97.5)">
<clipPath id="pc16"><rect x="0" y="0" width="29.3" height="71"/></clipPath>
<g clip-path="url(#pc16)"><g filter="url(#pblur)">
<rect x="-1" y="-1" width="31.3" height="73" fill="#181818"/>
<rect x="0.6" y="0" width="2.6" height="71" fill="#2c2c2c"/>
<rect x="25" y="0" width="2.5" height="71" fill="#262626"/>
<rect x="12.8" y="0" width="3.2" height="5" fill="#7a7a7a" opacity="0.7"/>
<use href="#mouse" fill="#b4b4b4" filter="url(#soft)"/>
<use href="#mouse" fill="url(#mg)" opacity="0.85" filter="url(#soft)"/>
<g filter="url(#heat1)">
<ellipse cx="14.85" cy="8.50" rx="2.75" ry="4.50" fill="#ffe81a"/>
<ellipse cx="14.85" cy="8.50" rx="1.85" ry="3.00" fill="#ff9a10"/>
<ellipse cx="4.85" cy="19.80" rx="2.75" ry="3.20" fill="#a2c6f3" opacity="0.85"/>
<ellipse cx="12.60" cy="47.95" rx="5.90" ry="8.65" fill="#6a9fea" filter="url(#patch1)"/>
<ellipse cx="12.50" cy="48.00" rx="5.50" ry="8.00" fill="#a2c6f3" opacity="0.5"/>
<ellipse cx="5.30" cy="62.90" rx="2.30" ry="1.80" fill="#ff9a10"/>
<ellipse cx="25.25" cy="60.25" rx="3.15" ry="2.75" fill="#ff9a10"/>
<ellipse cx="14.35" cy="67.45" rx="2.25" ry="2.75" fill="#ff9a10"/>
</g>
<use href="#mouse" fill="#000" filter="url(#tex1)" opacity="0.2"/>
</g></g>
</g>
<g transform="translate(21.00,170)">
<clipPath id="pc20"><rect x="0" y="0" width="29.3" height="71"/></clipPath>
<g clip-path="url(#pc20)"><g filter="url(#pblur)">
<rect x="-1" y="-1" width="31.3" height="73" fill="#181818"/>
<rect x="0.6" y="0" width="2.6" height="71" fill="#2c2c2c"/>
<rect x="25" y="0" width="2.5" height="71" fill="#262626"/>
<rect x="12.8" y="0" width="3.2" height="5" fill="#7a7a7a" opacity="0.7"/>
<use href="#mouse" fill="#b4b4b4" filter="url(#soft)"/>
<use href="#mouse" fill="url(#mg)" opacity="0.85" filter="url(#soft)"/>
<g filter="url(#heat2)">
<ellipse cx="20.45" cy="39.70" rx="5.35" ry="5.80" fill="#9a8ee0" opacity="0.4"/>
<ellipse cx="20.45" cy="37.50" rx="3.55" ry="2.10" fill="#ffe81a" opacity="0.9"/>
<ellipse cx="20.50" cy="37.50" rx="1.90" ry="1.10" fill="#c4d070"/>
</g>
<use href="#mouse" fill="#000" filter="url(#tex2)" opacity="0.2"/>
</g></g>
</g>
<g transform="translate(52.25,170)">
<clipPath id="pc21"><rect x="0" y="0" width="29.3" height="71"/></clipPath>
<g clip-path="url(#pc21)"><g filter="url(#pblur)">
<rect x="-1" y="-1" width="31.3" height="73" fill="#181818"/>
<rect x="0.6" y="0" width="2.6" height="71" fill="#2c2c2c"/>
<rect x="25" y="0" width="2.5" height="71" fill="#262626"/>
<rect x="12.8" y="0" width="3.2" height="5" fill="#7a7a7a" opacity="0.7"/>
<use href="#mouse" fill="#b4b4b4" filter="url(#soft)"/>
<use href="#mouse" fill="url(#mg)" opacity="0.85" filter="url(#soft)"/>
<g filter="url(#heat3)">
<ellipse cx="17.10" cy="40.15" rx="10.30" ry="9.85" fill="#6a9fea" filter="url(#patch3)"/>
<ellipse cx="17.00" cy="40.00" rx="10.00" ry="9.50" fill="#a2c6f3" opacity="0.6"/>
<ellipse cx="15.50" cy="18.00" rx="6.50" ry="8.00" fill="#a2c6f3" opacity="0.4" filter="url(#patch3)"/>
<ellipse cx="22.90" cy="39.25" rx="4.50" ry="5.35" fill="#ffe81a"/>
<ellipse cx="22.90" cy="39.25" rx="3.70" ry="4.45" fill="#ff9a10"/>
<ellipse cx="22.90" cy="39.30" rx="3.10" ry="3.70" fill="#8a0a00"/>
<ellipse cx="22.90" cy="39.40" rx="2.50" ry="2.80" fill="#1a0400"/>
</g>
<use href="#mouse" fill="#000" filter="url(#tex3)" opacity="0.2"/>
</g></g>
</g>
<g transform="translate(83.50,170)">
<clipPath id="pc22"><rect x="0" y="0" width="29.3" height="71"/></clipPath>
<g clip-path="url(#pc22)"><g filter="url(#pblur)">
<rect x="-1" y="-1" width="31.3" height="73" fill="#181818"/>
<rect x="0.6" y="0" width="2.6" height="71" fill="#2c2c2c"/>
<rect x="25" y="0" width="2.5" height="71" fill="#262626"/>
<rect x="12.8" y="0" width="3.2" height="5" fill="#7a7a7a" opacity="0.7"/>
<use href="#mouse" fill="#b4b4b4" filter="url(#soft)"/>
<use href="#mouse" fill="url(#mg)" opacity="0.85" filter="url(#soft)"/>
<g filter="url(#heat0)">
<ellipse cx="14.60" cy="37.00" rx="10.70" ry="21.00" fill="#6a9fea" filter="url(#patch0)"/>
<ellipse cx="14.50" cy="37.00" rx="10.50" ry="21.00" fill="#a2c6f3" opacity="0.55"/>
<ellipse cx="14.50" cy="28.00" rx="5.50" ry="6.00" fill="#a0a0a0" opacity="0.6"/>
<ellipse cx="14.15" cy="10.20" rx="3.15" ry="4.00" fill="#ffe81a"/>
<ellipse cx="14.15" cy="10.20" rx="2.35" ry="3.00" fill="#ff9a10"/>
<ellipse cx="14.15" cy="10.20" rx="1.65" ry="2.20" fill="#8a0a00"/>
<ellipse cx="14.15" cy="10.20" rx="1.05" ry="1.40" fill="#1a0400"/>
<ellipse cx="12.80" cy="18.70" rx="2.70" ry="2.70" fill="#ffe81a"/>
<ellipse cx="12.80" cy="18.70" rx="1.40" ry="1.40" fill="#6a9fea"/>
<ellipse cx="16.80" cy="48.20" rx="5.80" ry="4.50" fill="#ffe81a"/>
<ellipse cx="16.50" cy="48.25" rx="3.50" ry="2.75" fill="#fff36a"/>
<ellipse cx="14.60" cy="58.05" rx="2.70" ry="3.55" fill="#ffe81a"/>
<ellipse cx="14.60" cy="58.05" rx="2.00" ry="2.75" fill="#8a0a00"/>
<ellipse cx="14.60" cy="58.05" rx="1.30" ry="1.75" fill="#1a0400"/>
</g>
<use href="#mouse" fill="#000" filter="url(#tex0)" opacity="0.2"/>
</g></g>
</g>
<g transform="translate(114.75,170)">
<clipPath id="pc23"><rect x="0" y="0" width="29.3" height="71"/></clipPath>
<g clip-path="url(#pc23)"><g filter="url(#pblur)">
<rect x="-1" y="-1" width="31.3" height="73" fill="#181818"/>
<rect x="0.6" y="0" width="2.6" height="71" fill="#2c2c2c"/>
<rect x="25" y="0" width="2.5" height="71" fill="#262626"/>
<rect x="12.8" y="0" width="3.2" height="5" fill="#7a7a7a" opacity="0.7"/>
<use href="#mouse" fill="#b4b4b4" filter="url(#soft)"/>
<use href="#mouse" fill="url(#mg)" opacity="0.85" filter="url(#soft)"/>
<g filter="url(#heat1)">
<ellipse cx="13.45" cy="9.30" rx="2.65" ry="4.00" fill="#e8f070"/>
<ellipse cx="13.45" cy="9.25" rx="1.65" ry="2.75" fill="#c8e050"/>
<ellipse cx="14.00" cy="15.50" rx="6.00" ry="2.50" fill="#a2c6f3" opacity="0.5" filter="url(#patch1)"/>
<ellipse cx="15.25" cy="47.75" rx="6.25" ry="8.45" fill="#6a9fea" filter="url(#patch1)"/>
<ellipse cx="15.25" cy="47.75" rx="6.25" ry="8.25" fill="#a2c6f3" opacity="0.5"/>
<ellipse cx="19.70" cy="50.00" rx="1.80" ry="2.70" fill="#d0e070"/>
<ellipse cx="11.50" cy="58.00" rx="1.50" ry="2.00" fill="#d0e070" opacity="0.7"/>
</g>
<use href="#mouse" fill="#000" filter="url(#tex1)" opacity="0.2"/>
</g></g>
</g>
<g transform="translate(146.00,170)">
<clipPath id="pc24"><rect x="0" y="0" width="29.3" height="71"/></clipPath>
<g clip-path="url(#pc24)"><g filter="url(#pblur)">
<rect x="-1" y="-1" width="31.3" height="73" fill="#181818"/>
<rect x="0.6" y="0" width="2.6" height="71" fill="#2c2c2c"/>
<rect x="25" y="0" width="2.5" height="71" fill="#262626"/>
<rect x="12.8" y="0" width="3.2" height="5" fill="#7a7a7a" opacity="0.7"/>
<use href="#mouse" fill="#b4b4b4" filter="url(#soft)"/>
<use href="#mouse" fill="url(#mg)" opacity="0.85" filter="url(#soft)"/>
<g filter="url(#heat2)">
<ellipse cx="15.55" cy="33.90" rx="10.25" ry="20.60" fill="#6a9fea" filter="url(#patch2)"/>
<ellipse cx="15.50" cy="33.75" rx="10.00" ry="20.25" fill="#a2c6f3" opacity="0.55"/>
<ellipse cx="14.00" cy="30.00" rx="6.00" ry="8.00" fill="#e9f1fb" opacity="0.6"/>
<ellipse cx="14.65" cy="9.30" rx="3.15" ry="4.00" fill="#ffe81a"/>
<ellipse cx="14.65" cy="9.30" rx="2.15" ry="2.80" fill="#1a0400"/>
<ellipse cx="5.70" cy="16.45" rx="3.10" ry="3.15" fill="#ffe81a"/>
<ellipse cx="5.70" cy="16.45" rx="2.10" ry="2.15" fill="#1a0400"/>
<ellipse cx="6.15" cy="24.50" rx="2.65" ry="3.10" fill="#ffe81a"/>
<ellipse cx="6.15" cy="24.50" rx="1.65" ry="2.10" fill="#1a0400"/>
<ellipse cx="24.05" cy="17.35" rx="3.55" ry="3.15" fill="#ffe81a"/>
<ellipse cx="24.05" cy="17.35" rx="2.55" ry="2.15" fill="#1a0400"/>
<ellipse cx="19.15" cy="23.20" rx="2.25" ry="1.80" fill="#1a0400"/>
<ellipse cx="15.55" cy="48.20" rx="6.75" ry="7.20" fill="#ffe81a"/>
<ellipse cx="15.50" cy="48.00" rx="4.50" ry="5.00" fill="#fff36a"/>
<ellipse cx="12.40" cy="48.65" rx="1.80" ry="2.25" fill="#e01a00"/>
<ellipse cx="16.90" cy="50.45" rx="2.70" ry="2.25" fill="#e01a00"/>
<ellipse cx="9.30" cy="59.35" rx="3.90" ry="3.95" fill="#ffe81a"/>
<ellipse cx="9.30" cy="59.35" rx="3.10" ry="3.15" fill="#1a0400"/>
<ellipse cx="23.60" cy="59.35" rx="3.90" ry="3.95" fill="#ffe81a"/>
<ellipse cx="23.60" cy="59.35" rx="3.10" ry="3.15" fill="#1a0400"/>
<ellipse cx="14.50" cy="64.50" rx="1.30" ry="4.50" fill="#1a0400"/>
</g>
<use href="#mouse" fill="#000" filter="url(#tex2)" opacity="0.2"/>
</g></g>
</g>
<g transform="translate(177.25,170)">
<clipPath id="pc25"><rect x="0" y="0" width="29.3" height="71"/></clipPath>
<g clip-path="url(#pc25)"><g filter="url(#pblur)">
<rect x="-1" y="-1" width="31.3" height="73" fill="#181818"/>
<rect x="0.6" y="0" width="2.6" height="71" fill="#2c2c2c"/>
<rect x="25" y="0" width="2.5" height="71" fill="#262626"/>
<rect x="12.8" y="0" width="3.2" height="5" fill="#7a7a7a" opacity="0.7"/>
<use href="#mouse" fill="#b4b4b4" filter="url(#soft)"/>
<use href="#mouse" fill="url(#mg)" opacity="0.85" filter="url(#soft)"/>
<g filter="url(#heat3)">
<ellipse cx="14.90" cy="22.00" rx="8.90" ry="11.00" fill="#a2c6f3" opacity="0.6" filter="url(#patch3)"/>
<ellipse cx="14.85" cy="43.75" rx="8.95" ry="10.75" fill="#6a9fea" filter="url(#patch3)"/>
<ellipse cx="14.75" cy="43.50" rx="8.75" ry="10.50" fill="#a2c6f3" opacity="0.55"/>
<ellipse cx="13.95" cy="7.95" rx="2.65" ry="2.65" fill="#ffe81a"/>
<ellipse cx="13.95" cy="8.00" rx="1.15" ry="1.20" fill="#a2c6f3"/>
<ellipse cx="5.90" cy="20.05" rx="2.70" ry="3.15" fill="#ffe81a"/>
<ellipse cx="5.90" cy="20.00" rx="1.30" ry="1.60" fill="#c8c8c8"/>
<ellipse cx="23.80" cy="20.05" rx="2.70" ry="3.15" fill="#ffe81a"/>
<ellipse cx="23.80" cy="20.00" rx="1.30" ry="1.60" fill="#c8c8c8"/>
<ellipse cx="14.85" cy="41.95" rx="3.55" ry="4.45" fill="#ffe81a"/>
<ellipse cx="14.90" cy="42.00" rx="2.10" ry="3.00" fill="#fff36a"/>
<ellipse cx="5.00" cy="61.15" rx="3.60" ry="4.05" fill="#ffe81a"/>
<ellipse cx="5.00" cy="61.15" rx="2.40" ry="2.65" fill="#ff9a10"/>
<ellipse cx="21.10" cy="58.50" rx="2.70" ry="4.00" fill="#ffe81a"/>
<ellipse cx="21.10" cy="58.50" rx="1.50" ry="2.70" fill="#ff9a10"/>
</g>
<use href="#mouse" fill="#000" filter="url(#tex3)" opacity="0.2"/>
</g></g>
</g>
<g transform="translate(208.50,170)">
<clipPath id="pc26"><rect x="0" y="0" width="29.3" height="71"/></clipPath>
<g clip-path="url(#pc26)"><g filter="url(#pblur)">
<rect x="-1" y="-1" width="31.3" height="73" fill="#181818"/>
<rect x="0.6" y="0" width="2.6" height="71" fill="#2c2c2c"/>
<rect x="25" y="0" width="2.5" height="71" fill="#262626"/>
<rect x="12.8" y="0" width="3.2" height="5" fill="#7a7a7a" opacity="0.7"/>
<use href="#mouse" fill="#b4b4b4" filter="url(#soft)"/>
<use href="#mouse" fill="url(#mg)" opacity="0.85" filter="url(#soft)"/>
<g filter="url(#heat0)">
<ellipse cx="14.15" cy="6.60" rx="2.25" ry="4.00" fill="#a2c6f3" opacity="0.9"/>
<ellipse cx="15.05" cy="40.15" rx="3.15" ry="5.35" fill="#6a9fea" filter="url(#patch0)"/>
<ellipse cx="5.65" cy="59.80" rx="2.65" ry="3.60" fill="#a2c6f3" opacity="0.9"/>
<ellipse cx="22.65" cy="61.15" rx="2.65" ry="3.15" fill="#a2c6f3" opacity="0.9"/>
<ellipse cx="14.20" cy="59.60" rx="2.20" ry="3.40" fill="#a2c6f3" opacity="0.8"/>
<ellipse cx="14.20" cy="66.35" rx="1.60" ry="3.35" fill="#ff9a10"/>
</g>
<use href="#mouse" fill="#000" filter="url(#tex0)" opacity="0.2"/>
</g></g>
</g>
<text x="10.6" y="59.7" font-size="6.8" font-weight="bold" text-anchor="middle" fill="#000" stroke="#000" stroke-width="0.08" transform="rotate(-90 10.6 59.7)">Tcon</text>
<text x="8.6" y="133.3" font-size="6.5" font-weight="bold" text-anchor="middle" fill="#000" stroke="#000" stroke-width="0.08" transform="rotate(-90 8.6 133.3)">+ CD4<tspan font-size="4.5" dy="-2.2">+</tspan><tspan dy="2.2"> iNKT</tspan></text>
<text x="15.4" y="132.2" font-size="6.9" font-weight="bold" text-anchor="middle" fill="#000" stroke="#000" stroke-width="0.08" transform="rotate(-90 15.4 132.2)">(Donor)</text>
<text x="8.6" y="205.6" font-size="6.5" font-weight="bold" text-anchor="middle" fill="#000" stroke="#000" stroke-width="0.08" transform="rotate(-90 8.6 205.6)">+ CD4<tspan font-size="4.5" dy="-2.2">+</tspan><tspan dy="2.2"> iNKT</tspan></text>
<text x="15.4" y="205.5" font-size="6.5" font-weight="bold" text-anchor="middle" fill="#000" stroke="#000" stroke-width="0.08" transform="rotate(-90 15.4 205.5)">(3<tspan font-size="4.5" dy="-2.2">rd</tspan><tspan dy="2.2"> Party)</tspan></text>
<text x="258.5" y="53" font-size="5.1" font-weight="bold" text-anchor="middle" fill="#000" stroke="#000" stroke-width="0.08">Radiance</text>
<text x="258.5" y="59.5" font-size="4.8" text-anchor="middle" fill="#222" stroke="#222" stroke-width="0.22">p·s<tspan font-size="3.3" dy="-1.6">-1</tspan><tspan dy="1.6">·cm</tspan><tspan font-size="3.3" dy="-1.6">-2</tspan><tspan dy="1.6">·sr</tspan><tspan font-size="3.3" dy="-1.6">-1</tspan></text>
<rect x="244.2" y="69.5" width="7.8" height="132.8" fill="url(#cbar)" stroke="#555" stroke-width="0.6"/>
<line x1="252" y1="69.5" x2="256.5" y2="69.5" stroke="#333" stroke-width="0.6"/>
<line x1="252" y1="74.81" x2="254.8" y2="74.81" stroke="#333" stroke-width="0.6"/>
<line x1="252" y1="80.12" x2="254.8" y2="80.12" stroke="#333" stroke-width="0.6"/>
<line x1="252" y1="85.44" x2="254.8" y2="85.44" stroke="#333" stroke-width="0.6"/>
<line x1="252" y1="90.75" x2="254.8" y2="90.75" stroke="#333" stroke-width="0.6"/>
<line x1="252" y1="96.06" x2="256.5" y2="96.06" stroke="#333" stroke-width="0.6"/>
<line x1="252" y1="101.37" x2="254.8" y2="101.37" stroke="#333" stroke-width="0.6"/>
<line x1="252" y1="106.68" x2="254.8" y2="106.68" stroke="#333" stroke-width="0.6"/>
<line x1="252" y1="112.0" x2="254.8" y2="112.0" stroke="#333" stroke-width="0.6"/>
<line x1="252" y1="117.31" x2="254.8" y2="117.31" stroke="#333" stroke-width="0.6"/>
<line x1="252" y1="122.62" x2="256.5" y2="122.62" stroke="#333" stroke-width="0.6"/>
<line x1="252" y1="127.93" x2="254.8" y2="127.93" stroke="#333" stroke-width="0.6"/>
<line x1="252" y1="133.24" x2="254.8" y2="133.24" stroke="#333" stroke-width="0.6"/>
<line x1="252" y1="138.56" x2="254.8" y2="138.56" stroke="#333" stroke-width="0.6"/>
<line x1="252" y1="143.87" x2="254.8" y2="143.87" stroke="#333" stroke-width="0.6"/>
<line x1="252" y1="149.18" x2="256.5" y2="149.18" stroke="#333" stroke-width="0.6"/>
<line x1="252" y1="154.49" x2="254.8" y2="154.49" stroke="#333" stroke-width="0.6"/>
<line x1="252" y1="159.8" x2="254.8" y2="159.8" stroke="#333" stroke-width="0.6"/>
<line x1="252" y1="165.12" x2="254.8" y2="165.12" stroke="#333" stroke-width="0.6"/>
<line x1="252" y1="170.43" x2="254.8" y2="170.43" stroke="#333" stroke-width="0.6"/>
<line x1="252" y1="175.74" x2="256.5" y2="175.74" stroke="#333" stroke-width="0.6"/>
<line x1="252" y1="181.05" x2="254.8" y2="181.05" stroke="#333" stroke-width="0.6"/>
<line x1="252" y1="186.36" x2="254.8" y2="186.36" stroke="#333" stroke-width="0.6"/>
<line x1="252" y1="191.68" x2="254.8" y2="191.68" stroke="#333" stroke-width="0.6"/>
<line x1="252" y1="196.99" x2="254.8" y2="196.99" stroke="#333" stroke-width="0.6"/>
<line x1="252" y1="202.3" x2="256.5" y2="202.3" stroke="#333" stroke-width="0.6"/>
<text x="260.5" y="71.8" font-size="6.2" text-anchor="start" fill="#3a3a3a" stroke="#3a3a3a" stroke-width="0.22">6.0</text>
<text x="260.5" y="98.36" font-size="6.2" text-anchor="start" fill="#3a3a3a" stroke="#3a3a3a" stroke-width="0.22">5.0</text>
<text x="260.5" y="124.92" font-size="6.2" text-anchor="start" fill="#3a3a3a" stroke="#3a3a3a" stroke-width="0.22">4.0</text>
<text x="260.5" y="151.48" font-size="6.2" text-anchor="start" fill="#3a3a3a" stroke="#3a3a3a" stroke-width="0.22">3.0</text>
<text x="260.5" y="178.04" font-size="6.2" text-anchor="start" fill="#3a3a3a" stroke="#3a3a3a" stroke-width="0.22">2.0</text>
<text x="260.5" y="204.6" font-size="6.2" text-anchor="start" fill="#3a3a3a" stroke="#3a3a3a" stroke-width="0.22">1.0</text>
<text x="271.5" y="136.5" font-size="5.5" text-anchor="start" fill="#222" stroke="#222" stroke-width="0.22">x10<tspan font-size="3.5" dy="-2">4</tspan></text>
<text x="0.5" y="265.8" font-size="10.5" font-weight="bold" text-anchor="start" fill="#000" stroke="#000" stroke-width="0.08">B</text>
<line x1="66.5" y1="274.55" x2="66.5" y2="384.1" stroke="#000" stroke-width="0.9"/>
<line x1="66.1" y1="383.6" x2="231.3" y2="383.6" stroke="#000" stroke-width="0.9"/>
<line x1="63.3" y1="383.6" x2="66.5" y2="383.6" stroke="#000" stroke-width="0.6"/>
<line x1="64.7" y1="379.98" x2="66.5" y2="379.98" stroke="#000" stroke-width="0.6"/>
<line x1="64.7" y1="376.35" x2="66.5" y2="376.35" stroke="#000" stroke-width="0.6"/>
<line x1="64.7" y1="372.73" x2="66.5" y2="372.73" stroke="#000" stroke-width="0.6"/>
<line x1="64.7" y1="369.1" x2="66.5" y2="369.1" stroke="#000" stroke-width="0.6"/>
<line x1="64.7" y1="365.48" x2="66.5" y2="365.48" stroke="#000" stroke-width="0.6"/>
<line x1="64.7" y1="361.85" x2="66.5" y2="361.85" stroke="#000" stroke-width="0.6"/>
<line x1="64.7" y1="358.23" x2="66.5" y2="358.23" stroke="#000" stroke-width="0.6"/>
<line x1="64.7" y1="354.6" x2="66.5" y2="354.6" stroke="#000" stroke-width="0.6"/>
<line x1="64.7" y1="350.98" x2="66.5" y2="350.98" stroke="#000" stroke-width="0.6"/>
<line x1="63.3" y1="347.35" x2="66.5" y2="347.35" stroke="#000" stroke-width="0.6"/>
<line x1="64.7" y1="343.73" x2="66.5" y2="343.73" stroke="#000" stroke-width="0.6"/>
<line x1="64.7" y1="340.1" x2="66.5" y2="340.1" stroke="#000" stroke-width="0.6"/>
<line x1="64.7" y1="336.48" x2="66.5" y2="336.48" stroke="#000" stroke-width="0.6"/>
<line x1="64.7" y1="332.85" x2="66.5" y2="332.85" stroke="#000" stroke-width="0.6"/>
<line x1="64.7" y1="329.23" x2="66.5" y2="329.23" stroke="#000" stroke-width="0.6"/>
<line x1="64.7" y1="325.6" x2="66.5" y2="325.6" stroke="#000" stroke-width="0.6"/>
<line x1="64.7" y1="321.98" x2="66.5" y2="321.98" stroke="#000" stroke-width="0.6"/>
<line x1="64.7" y1="318.35" x2="66.5" y2="318.35" stroke="#000" stroke-width="0.6"/>
<line x1="64.7" y1="314.73" x2="66.5" y2="314.73" stroke="#000" stroke-width="0.6"/>
<line x1="63.3" y1="311.1" x2="66.5" y2="311.1" stroke="#000" stroke-width="0.6"/>
<line x1="64.7" y1="307.48" x2="66.5" y2="307.48" stroke="#000" stroke-width="0.6"/>
<line x1="64.7" y1="303.85" x2="66.5" y2="303.85" stroke="#000" stroke-width="0.6"/>
<line x1="64.7" y1="300.23" x2="66.5" y2="300.23" stroke="#000" stroke-width="0.6"/>
<line x1="64.7" y1="296.6" x2="66.5" y2="296.6" stroke="#000" stroke-width="0.6"/>
<line x1="64.7" y1="292.98" x2="66.5" y2="292.98" stroke="#000" stroke-width="0.6"/>
<line x1="64.7" y1="289.35" x2="66.5" y2="289.35" stroke="#000" stroke-width="0.6"/>
<line x1="64.7" y1="285.73" x2="66.5" y2="285.73" stroke="#000" stroke-width="0.6"/>
<line x1="64.7" y1="282.1" x2="66.5" y2="282.1" stroke="#000" stroke-width="0.6"/>
<line x1="64.7" y1="278.48" x2="66.5" y2="278.48" stroke="#000" stroke-width="0.6"/>
<line x1="63.3" y1="274.85" x2="66.5" y2="274.85" stroke="#000" stroke-width="0.6"/>
<line x1="66.5" y1="383.6" x2="66.5" y2="386.6" stroke="#000" stroke-width="0.8"/>
<text x="66.5" y="394.3" font-size="7.2" text-anchor="middle" fill="#000" stroke="#000" stroke-width="0.22">0</text>
<line x1="121.3" y1="383.6" x2="121.3" y2="386.6" stroke="#000" stroke-width="0.8"/>
<text x="121.3" y="394.3" font-size="7.2" text-anchor="middle" fill="#000" stroke="#000" stroke-width="0.22">20</text>
<line x1="176.1" y1="383.6" x2="176.1" y2="386.6" stroke="#000" stroke-width="0.8"/>
<text x="176.1" y="394.3" font-size="7.2" text-anchor="middle" fill="#000" stroke="#000" stroke-width="0.22">40</text>
<line x1="230.9" y1="383.6" x2="230.9" y2="386.6" stroke="#000" stroke-width="0.8"/>
<text x="230.9" y="394.3" font-size="7.2" text-anchor="middle" fill="#000" stroke="#000" stroke-width="0.22">60</text>
<text x="59" y="277.35" font-size="6.9" text-anchor="end" fill="#000" stroke="#000" stroke-width="0.22">3.0x10<tspan font-size="4.4" dy="-2.6">7</tspan></text>
<text x="59" y="313.6" font-size="6.9" text-anchor="end" fill="#000" stroke="#000" stroke-width="0.22">2.0x10<tspan font-size="4.4" dy="-2.6">7</tspan></text>
<text x="59" y="349.85" font-size="6.9" text-anchor="end" fill="#000" stroke="#000" stroke-width="0.22">1.0x10<tspan font-size="4.4" dy="-2.6">7</tspan></text>
<text x="61.4" y="386.1" font-size="6.9" text-anchor="end" fill="#000" stroke="#000" stroke-width="0.22">0</text>
<text x="23.2" y="329.1" font-size="7.5" text-anchor="middle" fill="#000" stroke="#000" stroke-width="0.22" transform="rotate(-90 23.2 329.1)">BLI signal [p·s<tspan font-size="4.4" dy="-2.4">-1</tspan><tspan dy="2.4">·mouse</tspan><tspan font-size="4.4" dy="-2.4">-1</tspan><tspan dy="2.4">]</tspan></text>
<text x="149.5" y="406" font-size="7.8" text-anchor="middle" fill="#000" stroke="#000" stroke-width="0.22">Time after BMT [days]</text>
<line x1="121.3" y1="291.3" x2="121.3" y2="330.7" stroke="#000" stroke-width="0.6"/>
<line x1="119.3" y1="291.3" x2="123.3" y2="291.3" stroke="#000" stroke-width="0.6"/>
<line x1="119.3" y1="330.7" x2="123.3" y2="330.7" stroke="#000" stroke-width="0.6"/>
<line x1="159.66" y1="331.2" x2="159.66" y2="353.3" stroke="#000" stroke-width="0.6"/>
<line x1="157.66" y1="331.2" x2="161.66" y2="331.2" stroke="#000" stroke-width="0.6"/>
<line x1="157.66" y1="353.3" x2="161.66" y2="353.3" stroke="#000" stroke-width="0.6"/>
<line x1="85.68" y1="344.5" x2="85.68" y2="352" stroke="#000" stroke-width="0.6"/>
<line x1="83.68" y1="344.5" x2="87.68" y2="344.5" stroke="#000" stroke-width="0.6"/>
<line x1="83.68" y1="352" x2="87.68" y2="352" stroke="#000" stroke-width="0.6"/>
<line x1="198.02" y1="368.3" x2="198.02" y2="374" stroke="#000" stroke-width="0.6"/>
<line x1="196.02" y1="368.3" x2="200.02" y2="368.3" stroke="#000" stroke-width="0.6"/>
<line x1="196.02" y1="374" x2="200.02" y2="374" stroke="#000" stroke-width="0.6"/>
<line x1="121.3" y1="339.5" x2="121.3" y2="347" stroke="#000" stroke-width="0.6"/>
<line x1="119.3" y1="339.5" x2="123.3" y2="339.5" stroke="#000" stroke-width="0.6"/>
<line x1="119.3" y1="347" x2="123.3" y2="347" stroke="#000" stroke-width="0.6"/>
<line x1="159.66" y1="354.5" x2="159.66" y2="361" stroke="#000" stroke-width="0.6"/>
<line x1="157.66" y1="354.5" x2="161.66" y2="354.5" stroke="#000" stroke-width="0.6"/>
<line x1="157.66" y1="361" x2="161.66" y2="361" stroke="#000" stroke-width="0.6"/>
<line x1="85.68" y1="358.5" x2="85.68" y2="364.5" stroke="#000" stroke-width="0.6"/>
<line x1="83.68" y1="358.5" x2="87.68" y2="358.5" stroke="#000" stroke-width="0.6"/>
<line x1="83.68" y1="364.5" x2="87.68" y2="364.5" stroke="#000" stroke-width="0.6"/>
<line x1="198.02" y1="369.5" x2="198.02" y2="376" stroke="#000" stroke-width="0.6"/>
<line x1="196.02" y1="369.5" x2="200.02" y2="369.5" stroke="#000" stroke-width="0.6"/>
<line x1="196.02" y1="376" x2="200.02" y2="376" stroke="#000" stroke-width="0.6"/>
<line x1="121.3" y1="342.5" x2="121.3" y2="349.5" stroke="#000" stroke-width="0.6"/>
<line x1="119.3" y1="342.5" x2="123.3" y2="342.5" stroke="#000" stroke-width="0.6"/>
<line x1="119.3" y1="349.5" x2="123.3" y2="349.5" stroke="#000" stroke-width="0.6"/>
<line x1="159.66" y1="358.5" x2="159.66" y2="364" stroke="#000" stroke-width="0.6"/>
<line x1="157.66" y1="358.5" x2="161.66" y2="358.5" stroke="#000" stroke-width="0.6"/>
<line x1="157.66" y1="364" x2="161.66" y2="364" stroke="#000" stroke-width="0.6"/>
<line x1="198.02" y1="372.5" x2="198.02" y2="378.5" stroke="#000" stroke-width="0.6"/>
<line x1="196.02" y1="372.5" x2="200.02" y2="372.5" stroke="#000" stroke-width="0.6"/>
<line x1="196.02" y1="378.5" x2="200.02" y2="378.5" stroke="#000" stroke-width="0.6"/>
<polyline points="74.72,381.50 80.20,374.00 85.68,363.80 93.90,370.40 121.30,346.00 159.66,361.40 198.02,375.70" fill="none" stroke="#000" stroke-width="1"/>
<polyline points="74.72,381.50 80.20,373.00 85.68,361.60 93.90,370.40 121.30,343.30 159.66,358.20 198.02,373.00" fill="none" stroke="#000" stroke-width="1"/>
<polyline points="74.72,381.50 80.20,369.70 85.68,348.40 93.90,365.30 121.30,309.60 159.66,342.50 198.02,371.40" fill="none" stroke="#000" stroke-width="1"/>
<path d="M71.82,379.18 L77.62,379.18 L74.72,384.11 Z" fill="#fff" stroke="#000" stroke-width="0.8"/>
<path d="M77.30,367.38 L83.10,367.38 L80.20,372.31 Z" fill="#fff" stroke="#000" stroke-width="0.8"/>
<path d="M82.78,346.08 L88.58,346.08 L85.68,351.01 Z" fill="#fff" stroke="#000" stroke-width="0.8"/>
<path d="M91.00,362.98 L96.80,362.98 L93.90,367.91 Z" fill="#fff" stroke="#000" stroke-width="0.8"/>
<path d="M118.40,307.28 L124.20,307.28 L121.30,312.21 Z" fill="#fff" stroke="#000" stroke-width="0.8"/>
<path d="M156.76,340.18 L162.56,340.18 L159.66,345.11 Z" fill="#fff" stroke="#000" stroke-width="0.8"/>
<path d="M195.12,369.08 L200.92,369.08 L198.02,374.01 Z" fill="#fff" stroke="#000" stroke-width="0.8"/>
<path d="M71.92,383.74 L77.52,383.74 L74.72,378.98 Z" fill="#000"/>
<path d="M77.40,375.24 L83.00,375.24 L80.20,370.48 Z" fill="#000"/>
<path d="M82.88,363.84 L88.48,363.84 L85.68,359.08 Z" fill="#000"/>
<path d="M91.10,372.64 L96.70,372.64 L93.90,367.88 Z" fill="#000"/>
<path d="M118.50,345.54 L124.10,345.54 L121.30,340.78 Z" fill="#000"/>
<path d="M156.86,360.44 L162.46,360.44 L159.66,355.68 Z" fill="#000"/>
<path d="M195.22,375.24 L200.82,375.24 L198.02,370.48 Z" fill="#000"/>
<circle cx="74.72" cy="381.50" r="2.35" fill="#000"/>
<circle cx="80.20" cy="374.00" r="2.35" fill="#000"/>
<circle cx="85.68" cy="363.80" r="2.35" fill="#000"/>
<circle cx="93.90" cy="370.40" r="2.35" fill="#000"/>
<circle cx="121.30" cy="346.00" r="2.35" fill="#000"/>
<circle cx="159.66" cy="361.40" r="2.35" fill="#000"/>
<circle cx="198.02" cy="375.70" r="2.35" fill="#000"/>
<line x1="138.5" y1="278.8" x2="150" y2="278.8" stroke="#000" stroke-width="0.8"/>
<line x1="138.5" y1="292" x2="150" y2="292" stroke="#000" stroke-width="0.8"/>
<line x1="138.5" y1="304.8" x2="150" y2="304.8" stroke="#000" stroke-width="0.8"/>
<path d="M141.50,276.14 L146.90,276.14 L144.20,280.73 Z" fill="#fff" stroke="#000" stroke-width="0.8"/>
<path d="M141.50,293.96 L146.90,293.96 L144.20,289.37 Z" fill="#000"/>
<circle cx="144.20" cy="304.80" r="2.3" fill="#000"/>
<text x="157.5" y="281.3" font-size="7.9" text-anchor="start" fill="#000" stroke="#000" stroke-width="0.22">Tcon</text>
<text x="157.5" y="294.6" font-size="7.9" text-anchor="start" fill="#000" stroke="#000" stroke-width="0.22" textLength="65.8" lengthAdjust="spacingAndGlyphs">+ Donor CD4<tspan font-size="4.6" dy="-3">+</tspan><tspan dy="3"> iNKT</tspan></text>
<text x="157.5" y="307.4" font-size="7.9" text-anchor="start" fill="#000" stroke="#000" stroke-width="0.22" textLength="73.6" lengthAdjust="spacingAndGlyphs">+ 3<tspan font-size="4.4" dy="-3">rd</tspan><tspan dy="3"> Party CD4</tspan><tspan font-size="4.6" dy="-3">+</tspan><tspan dy="3"> iNKT</tspan></text>
<text x="294.5" y="10.3" font-size="10.5" font-weight="bold" text-anchor="start" fill="#000" stroke="#000" stroke-width="0.08">C</text>
<line x1="349.5" y1="25.3" x2="349.5" y2="116.0" stroke="#333" stroke-width="0.9"/>
<line x1="349.1" y1="115.6" x2="379.5" y2="115.6" stroke="#333" stroke-width="0.9"/>
<line x1="347.1" y1="115.6" x2="349.5" y2="115.6" stroke="#333" stroke-width="0.8"/>
<text x="346.1" y="118.1" font-size="7.0" text-anchor="end" fill="#222" stroke="#222" stroke-width="0.22">0</text>
<line x1="347.1" y1="93.1" x2="349.5" y2="93.1" stroke="#333" stroke-width="0.8"/>
<text x="346.1" y="95.6" font-size="7.0" text-anchor="end" fill="#222" stroke="#222" stroke-width="0.22">20</text>
<line x1="347.1" y1="70.6" x2="349.5" y2="70.6" stroke="#333" stroke-width="0.8"/>
<text x="346.1" y="73.1" font-size="7.0" text-anchor="end" fill="#222" stroke="#222" stroke-width="0.22">40</text>
<line x1="347.1" y1="48.1" x2="349.5" y2="48.1" stroke="#333" stroke-width="0.8"/>
<text x="346.1" y="50.6" font-size="7.0" text-anchor="end" fill="#222" stroke="#222" stroke-width="0.22">60</text>
<line x1="347.1" y1="25.6" x2="349.5" y2="25.6" stroke="#333" stroke-width="0.8"/>
<text x="346.1" y="28.1" font-size="7.0" text-anchor="end" fill="#222" stroke="#222" stroke-width="0.22">80</text>
<line x1="357.2" y1="36.7" x2="357.2" y2="40.3" stroke="#333" stroke-width="0.8"/>
<line x1="354.6" y1="36.7" x2="359.8" y2="36.7" stroke="#333" stroke-width="0.8"/>
<line x1="372.35" y1="52.4" x2="372.35" y2="58.0" stroke="#333" stroke-width="0.8"/>
<line x1="369.75" y1="52.4" x2="374.95" y2="52.4" stroke="#333" stroke-width="0.8"/>
<rect x="352.45" y="40.30" width="9.50" height="75.30" fill="#fff" stroke="#444" stroke-width="0.9"/>
<rect x="367.20" y="57.60" width="10.30" height="58.00" fill="#000"/>
<line x1="420.8" y1="24.9" x2="420.8" y2="115.9" stroke="#333" stroke-width="0.9"/>
<line x1="420.40000000000003" y1="115.5" x2="450.8" y2="115.5" stroke="#333" stroke-width="0.9"/>
<line x1="418.40000000000003" y1="115.5" x2="420.8" y2="115.5" stroke="#333" stroke-width="0.8"/>
<text x="417.40000000000003" y="118.0" font-size="7.0" text-anchor="end" fill="#222" stroke="#222" stroke-width="0.22">0</text>
<line x1="418.40000000000003" y1="85.4" x2="420.8" y2="85.4" stroke="#333" stroke-width="0.8"/>
<text x="417.40000000000003" y="87.9" font-size="7.0" text-anchor="end" fill="#222" stroke="#222" stroke-width="0.22">500</text>
<line x1="418.40000000000003" y1="55.3" x2="420.8" y2="55.3" stroke="#333" stroke-width="0.8"/>
<text x="417.40000000000003" y="57.8" font-size="7.0" text-anchor="end" fill="#222" stroke="#222" stroke-width="0.22">1000</text>
<line x1="418.40000000000003" y1="25.2" x2="420.8" y2="25.2" stroke="#333" stroke-width="0.8"/>
<text x="417.40000000000003" y="27.7" font-size="7.0" text-anchor="end" fill="#222" stroke="#222" stroke-width="0.22">1500</text>
<line x1="428.5" y1="39.3" x2="428.5" y2="42.9" stroke="#333" stroke-width="0.8"/>
<line x1="425.9" y1="39.3" x2="431.1" y2="39.3" stroke="#333" stroke-width="0.8"/>
<line x1="443.65" y1="77.0" x2="443.65" y2="80.5" stroke="#333" stroke-width="0.8"/>
<line x1="441.05" y1="77.0" x2="446.25" y2="77.0" stroke="#333" stroke-width="0.8"/>
<rect x="423.75" y="42.90" width="9.50" height="72.60" fill="#fff" stroke="#444" stroke-width="0.9"/>
<rect x="438.50" y="80.10" width="10.30" height="35.40" fill="#000"/>
<line x1="488.6" y1="24.8" x2="488.6" y2="115.80000000000001" stroke="#333" stroke-width="0.9"/>
<line x1="488.20000000000005" y1="115.4" x2="518.6" y2="115.4" stroke="#333" stroke-width="0.9"/>
<line x1="486.20000000000005" y1="115.4" x2="488.6" y2="115.4" stroke="#333" stroke-width="0.8"/>
<text x="485.20000000000005" y="117.9" font-size="7.0" text-anchor="end" fill="#222" stroke="#222" stroke-width="0.22">0</text>
<line x1="486.20000000000005" y1="97.34" x2="488.6" y2="97.34" stroke="#333" stroke-width="0.8"/>
<text x="485.20000000000005" y="99.84" font-size="7.0" text-anchor="end" fill="#222" stroke="#222" stroke-width="0.22">20</text>
<line x1="486.20000000000005" y1="79.28" x2="488.6" y2="79.28" stroke="#333" stroke-width="0.8"/>
<text x="485.20000000000005" y="81.78" font-size="7.0" text-anchor="end" fill="#222" stroke="#222" stroke-width="0.22">40</text>
<line x1="486.20000000000005" y1="61.22" x2="488.6" y2="61.22" stroke="#333" stroke-width="0.8"/>
<text x="485.20000000000005" y="63.72" font-size="7.0" text-anchor="end" fill="#222" stroke="#222" stroke-width="0.22">60</text>
<line x1="486.20000000000005" y1="43.16" x2="488.6" y2="43.16" stroke="#333" stroke-width="0.8"/>
<text x="485.20000000000005" y="45.66" font-size="7.0" text-anchor="end" fill="#222" stroke="#222" stroke-width="0.22">80</text>
<line x1="486.20000000000005" y1="25.1" x2="488.6" y2="25.1" stroke="#333" stroke-width="0.8"/>
<text x="485.20000000000005" y="27.6" font-size="7.0" text-anchor="end" fill="#222" stroke="#222" stroke-width="0.22">100</text>
<line x1="496.3" y1="82.3" x2="496.3" y2="89.5" stroke="#333" stroke-width="0.8"/>
<line x1="493.7" y1="82.3" x2="498.9" y2="82.3" stroke="#333" stroke-width="0.8"/>
<line x1="511.45" y1="36.3" x2="511.45" y2="52.0" stroke="#333" stroke-width="0.8"/>
<line x1="508.85" y1="36.3" x2="514.05" y2="36.3" stroke="#333" stroke-width="0.8"/>
<rect x="491.55" y="89.50" width="9.50" height="25.90" fill="#fff" stroke="#444" stroke-width="0.9"/>
<rect x="506.30" y="51.60" width="10.30" height="63.80" fill="#000"/>
<line x1="350.3" y1="134.7" x2="350.3" y2="225.3" stroke="#333" stroke-width="0.9"/>
<line x1="349.90000000000003" y1="224.9" x2="377.7" y2="224.9" stroke="#333" stroke-width="0.9"/>
<line x1="347.90000000000003" y1="224.9" x2="350.3" y2="224.9" stroke="#333" stroke-width="0.8"/>
<text x="346.90000000000003" y="227.4" font-size="7.0" text-anchor="end" fill="#222" stroke="#222" stroke-width="0.22">0</text>
<line x1="347.90000000000003" y1="202.43" x2="350.3" y2="202.43" stroke="#333" stroke-width="0.8"/>
<text x="346.90000000000003" y="204.93" font-size="7.0" text-anchor="end" fill="#222" stroke="#222" stroke-width="0.22">10</text>
<line x1="347.90000000000003" y1="179.95" x2="350.3" y2="179.95" stroke="#333" stroke-width="0.8"/>
<text x="346.90000000000003" y="182.45" font-size="7.0" text-anchor="end" fill="#222" stroke="#222" stroke-width="0.22">20</text>
<line x1="347.90000000000003" y1="157.47" x2="350.3" y2="157.47" stroke="#333" stroke-width="0.8"/>
<text x="346.90000000000003" y="159.97" font-size="7.0" text-anchor="end" fill="#222" stroke="#222" stroke-width="0.22">30</text>
<line x1="347.90000000000003" y1="135.0" x2="350.3" y2="135.0" stroke="#333" stroke-width="0.8"/>
<text x="346.90000000000003" y="137.5" font-size="7.0" text-anchor="end" fill="#222" stroke="#222" stroke-width="0.22">40</text>
<line x1="357.2" y1="154.0" x2="357.2" y2="166.0" stroke="#333" stroke-width="0.8"/>
<line x1="354.6" y1="154.0" x2="359.8" y2="154.0" stroke="#333" stroke-width="0.8"/>
<line x1="370.55" y1="174.3" x2="370.55" y2="181.0" stroke="#333" stroke-width="0.8"/>
<line x1="367.95" y1="174.3" x2="373.15" y2="174.3" stroke="#333" stroke-width="0.8"/>
<rect x="353.05" y="166.00" width="8.30" height="58.90" fill="#fff" stroke="#444" stroke-width="0.9"/>
<rect x="366.00" y="180.60" width="9.10" height="44.30" fill="#000"/>
<line x1="422.5" y1="134.6" x2="422.5" y2="225.3" stroke="#333" stroke-width="0.9"/>
<line x1="422.1" y1="224.9" x2="450.2" y2="224.9" stroke="#333" stroke-width="0.9"/>
<line x1="420.1" y1="224.9" x2="422.5" y2="224.9" stroke="#333" stroke-width="0.8"/>
<text x="419.1" y="227.4" font-size="7.0" text-anchor="end" fill="#222" stroke="#222" stroke-width="0.22">40</text>
<line x1="420.1" y1="202.4" x2="422.5" y2="202.4" stroke="#333" stroke-width="0.8"/>
<text x="419.1" y="204.9" font-size="7.0" text-anchor="end" fill="#222" stroke="#222" stroke-width="0.22">50</text>
<line x1="420.1" y1="179.9" x2="422.5" y2="179.9" stroke="#333" stroke-width="0.8"/>
<text x="419.1" y="182.4" font-size="7.0" text-anchor="end" fill="#222" stroke="#222" stroke-width="0.22">60</text>
<line x1="420.1" y1="157.4" x2="422.5" y2="157.4" stroke="#333" stroke-width="0.8"/>
<text x="419.1" y="159.9" font-size="7.0" text-anchor="end" fill="#222" stroke="#222" stroke-width="0.22">70</text>
<line x1="420.1" y1="134.9" x2="422.5" y2="134.9" stroke="#333" stroke-width="0.8"/>
<text x="419.1" y="137.4" font-size="7.0" text-anchor="end" fill="#222" stroke="#222" stroke-width="0.22">80</text>
<line x1="429.35" y1="160.0" x2="429.35" y2="166.8" stroke="#333" stroke-width="0.8"/>
<line x1="426.75" y1="160.0" x2="431.95" y2="160.0" stroke="#333" stroke-width="0.8"/>
<line x1="443.05" y1="201.3" x2="443.05" y2="206.7" stroke="#333" stroke-width="0.8"/>
<line x1="440.45" y1="201.3" x2="445.65" y2="201.3" stroke="#333" stroke-width="0.8"/>
<rect x="425.05" y="166.80" width="8.60" height="58.10" fill="#fff" stroke="#444" stroke-width="0.9"/>
<rect x="438.30" y="206.30" width="9.50" height="18.60" fill="#000"/>
<line x1="490.3" y1="134.7" x2="490.3" y2="225.3" stroke="#333" stroke-width="0.9"/>
<line x1="489.90000000000003" y1="224.9" x2="518.0" y2="224.9" stroke="#333" stroke-width="0.9"/>
<line x1="487.90000000000003" y1="224.9" x2="490.3" y2="224.9" stroke="#333" stroke-width="0.8"/>
<text x="486.90000000000003" y="227.4" font-size="7.0" text-anchor="end" fill="#222" stroke="#222" stroke-width="0.22">10</text>
<line x1="487.90000000000003" y1="194.93" x2="490.3" y2="194.93" stroke="#333" stroke-width="0.8"/>
<text x="486.90000000000003" y="197.43" font-size="7.0" text-anchor="end" fill="#222" stroke="#222" stroke-width="0.22">15</text>
<line x1="487.90000000000003" y1="164.97" x2="490.3" y2="164.97" stroke="#333" stroke-width="0.8"/>
<text x="486.90000000000003" y="167.47" font-size="7.0" text-anchor="end" fill="#222" stroke="#222" stroke-width="0.22">20</text>
<line x1="487.90000000000003" y1="135.0" x2="490.3" y2="135.0" stroke="#333" stroke-width="0.8"/>
<text x="486.90000000000003" y="137.5" font-size="7.0" text-anchor="end" fill="#222" stroke="#222" stroke-width="0.22">25</text>
<line x1="497.5" y1="178.4" x2="497.5" y2="183.5" stroke="#333" stroke-width="0.8"/>
<line x1="494.9" y1="178.4" x2="500.1" y2="178.4" stroke="#333" stroke-width="0.8"/>
<line x1="511.3" y1="148.7" x2="511.3" y2="154.6" stroke="#333" stroke-width="0.8"/>
<line x1="508.7" y1="148.7" x2="513.9" y2="148.7" stroke="#333" stroke-width="0.8"/>
<rect x="493.25" y="183.50" width="8.50" height="41.40" fill="#fff" stroke="#444" stroke-width="0.9"/>
<rect x="506.90" y="154.20" width="8.80" height="70.70" fill="#000"/>
<polygon points="364.40,26.55 365.08,28.37 367.02,28.45 365.49,29.66 366.02,31.52 364.40,30.45 362.78,31.52 363.31,29.66 361.78,28.45 363.72,28.37" fill="#000"/>
<polygon points="430.30,25.55 430.98,27.37 432.92,27.45 431.39,28.66 431.92,30.52 430.30,29.45 428.68,30.52 429.21,28.66 427.68,27.45 429.62,27.37" fill="#000"/>
<polygon points="435.80,25.55 436.48,27.37 438.42,27.45 436.89,28.66 437.42,30.52 435.80,29.45 434.18,30.52 434.71,28.66 433.18,27.45 435.12,27.37" fill="#000"/>
<polygon points="441.30,25.55 441.98,27.37 443.92,27.45 442.39,28.66 442.92,30.52 441.30,29.45 439.68,30.52 440.21,28.66 438.68,27.45 440.62,27.37" fill="#000"/>
<polygon points="503.40,26.95 504.08,28.77 506.02,28.85 504.49,30.06 505.02,31.92 503.40,30.85 501.78,31.92 502.31,30.06 500.78,28.85 502.72,28.77" fill="#000"/>
<polygon points="433.40,147.85 434.08,149.67 436.02,149.75 434.49,150.96 435.02,152.82 433.40,151.75 431.78,152.82 432.31,150.96 430.78,149.75 432.72,149.67" fill="#000"/>
<polygon points="438.60,147.85 439.28,149.67 441.22,149.75 439.69,150.96 440.22,152.82 438.60,151.75 436.98,152.82 437.51,150.96 435.98,149.75 437.92,149.67" fill="#000"/>
<polygon points="504.30,136.55 504.98,138.37 506.92,138.45 505.39,139.66 505.92,141.52 504.30,140.45 502.68,141.52 503.21,139.66 501.68,138.45 503.62,138.37" fill="#000"/>
<text x="362" y="10" font-size="6.6" font-weight="bold" text-anchor="middle" fill="#000" stroke="#000" stroke-width="0.08">mTNF-α</text>
<text x="434" y="10" font-size="6.6" font-weight="bold" text-anchor="middle" fill="#000" stroke="#000" stroke-width="0.08">mIFN-γ</text>
<text x="503.5" y="10" font-size="6.6" font-weight="bold" text-anchor="middle" fill="#000" stroke="#000" stroke-width="0.08">mIL-4</text>
<text x="313.4" y="70.5" font-size="6.9" font-weight="bold" text-anchor="middle" fill="#000" stroke="#000" stroke-width="0.08" transform="rotate(-90 313.4 70.5)">Serum</text>
<text x="307.6" y="179.7" font-size="6.9" font-weight="bold" text-anchor="middle" fill="#000" stroke="#000" stroke-width="0.08" transform="rotate(-90 307.6 179.7)">Thy1.1<tspan font-size="4.5" dy="-2.3">+</tspan><tspan dy="2.3">CD4</tspan><tspan font-size="4.5" dy="-2.3">+</tspan></text>
<text x="315.5" y="180" font-size="6.5" font-weight="bold" text-anchor="middle" fill="#000" stroke="#000" stroke-width="0.08" transform="rotate(-90 315.5 180)">FoxP3<tspan font-size="4.5" dy="-2.3">-</tspan><tspan dy="2.3"> T cells</tspan></text>
<text x="333.5" y="70.9" font-size="7.1" text-anchor="middle" fill="#222" stroke="#222" stroke-width="0.22" transform="rotate(-90 333.5 70.9)" textLength="57.5" lengthAdjust="spacingAndGlyphs">mTNF-α [pg·mL<tspan font-size="4.2" dy="-2.3">-1</tspan><tspan dy="2.3">]</tspan></text>
<text x="395.6" y="68" font-size="6.6" text-anchor="middle" fill="#222" stroke="#222" stroke-width="0.22" transform="rotate(-90 395.6 68)" textLength="46" lengthAdjust="spacingAndGlyphs">mIFN-γ [pg·mL<tspan font-size="4.2" dy="-2.3">-1</tspan><tspan dy="2.3">]</tspan></text>
<text x="469.6" y="70.7" font-size="7.0" text-anchor="middle" fill="#222" stroke="#222" stroke-width="0.22" transform="rotate(-90 469.6 70.7)" textLength="47" lengthAdjust="spacingAndGlyphs">mIL-4 [pg·mL<tspan font-size="4.2" dy="-2.3">-1</tspan><tspan dy="2.3">]</tspan></text>
<text x="335.5" y="180.5" font-size="7.0" text-anchor="middle" fill="#222" stroke="#222" stroke-width="0.22" transform="rotate(-90 335.5 180.5)" textLength="38.5" lengthAdjust="spacingAndGlyphs">mTNF-α [%]</text>
<text x="407.3" y="180.5" font-size="7.0" text-anchor="middle" fill="#222" stroke="#222" stroke-width="0.22" transform="rotate(-90 407.3 180.5)" textLength="34" lengthAdjust="spacingAndGlyphs">mIFN-γ [%]</text>
<text x="475" y="180.4" font-size="7.0" text-anchor="middle" fill="#222" stroke="#222" stroke-width="0.22" transform="rotate(-90 475 180.4)" textLength="29.3" lengthAdjust="spacingAndGlyphs">mIL-4 [%]</text>
<rect x="377" y="234.2" width="12.4" height="7" fill="#fff" stroke="#555" stroke-width="0.7"/>
<text x="393" y="240.2" font-size="6.3" text-anchor="start" fill="#222" stroke="#222" stroke-width="0.22">Tcon</text>
<rect x="421" y="233.8" width="12.4" height="7.7" fill="#000"/>
<text x="437.4" y="240.2" font-size="6.3" text-anchor="start" fill="#222" stroke="#222" stroke-width="0.22">+ 3<tspan font-size="4" dy="-2.2">rd</tspan><tspan dy="2.2"> P. CD4</tspan><tspan font-size="4" dy="-2.2">+</tspan><tspan dy="2.2"> iNKT</tspan></text>
</svg>
</body></html>
